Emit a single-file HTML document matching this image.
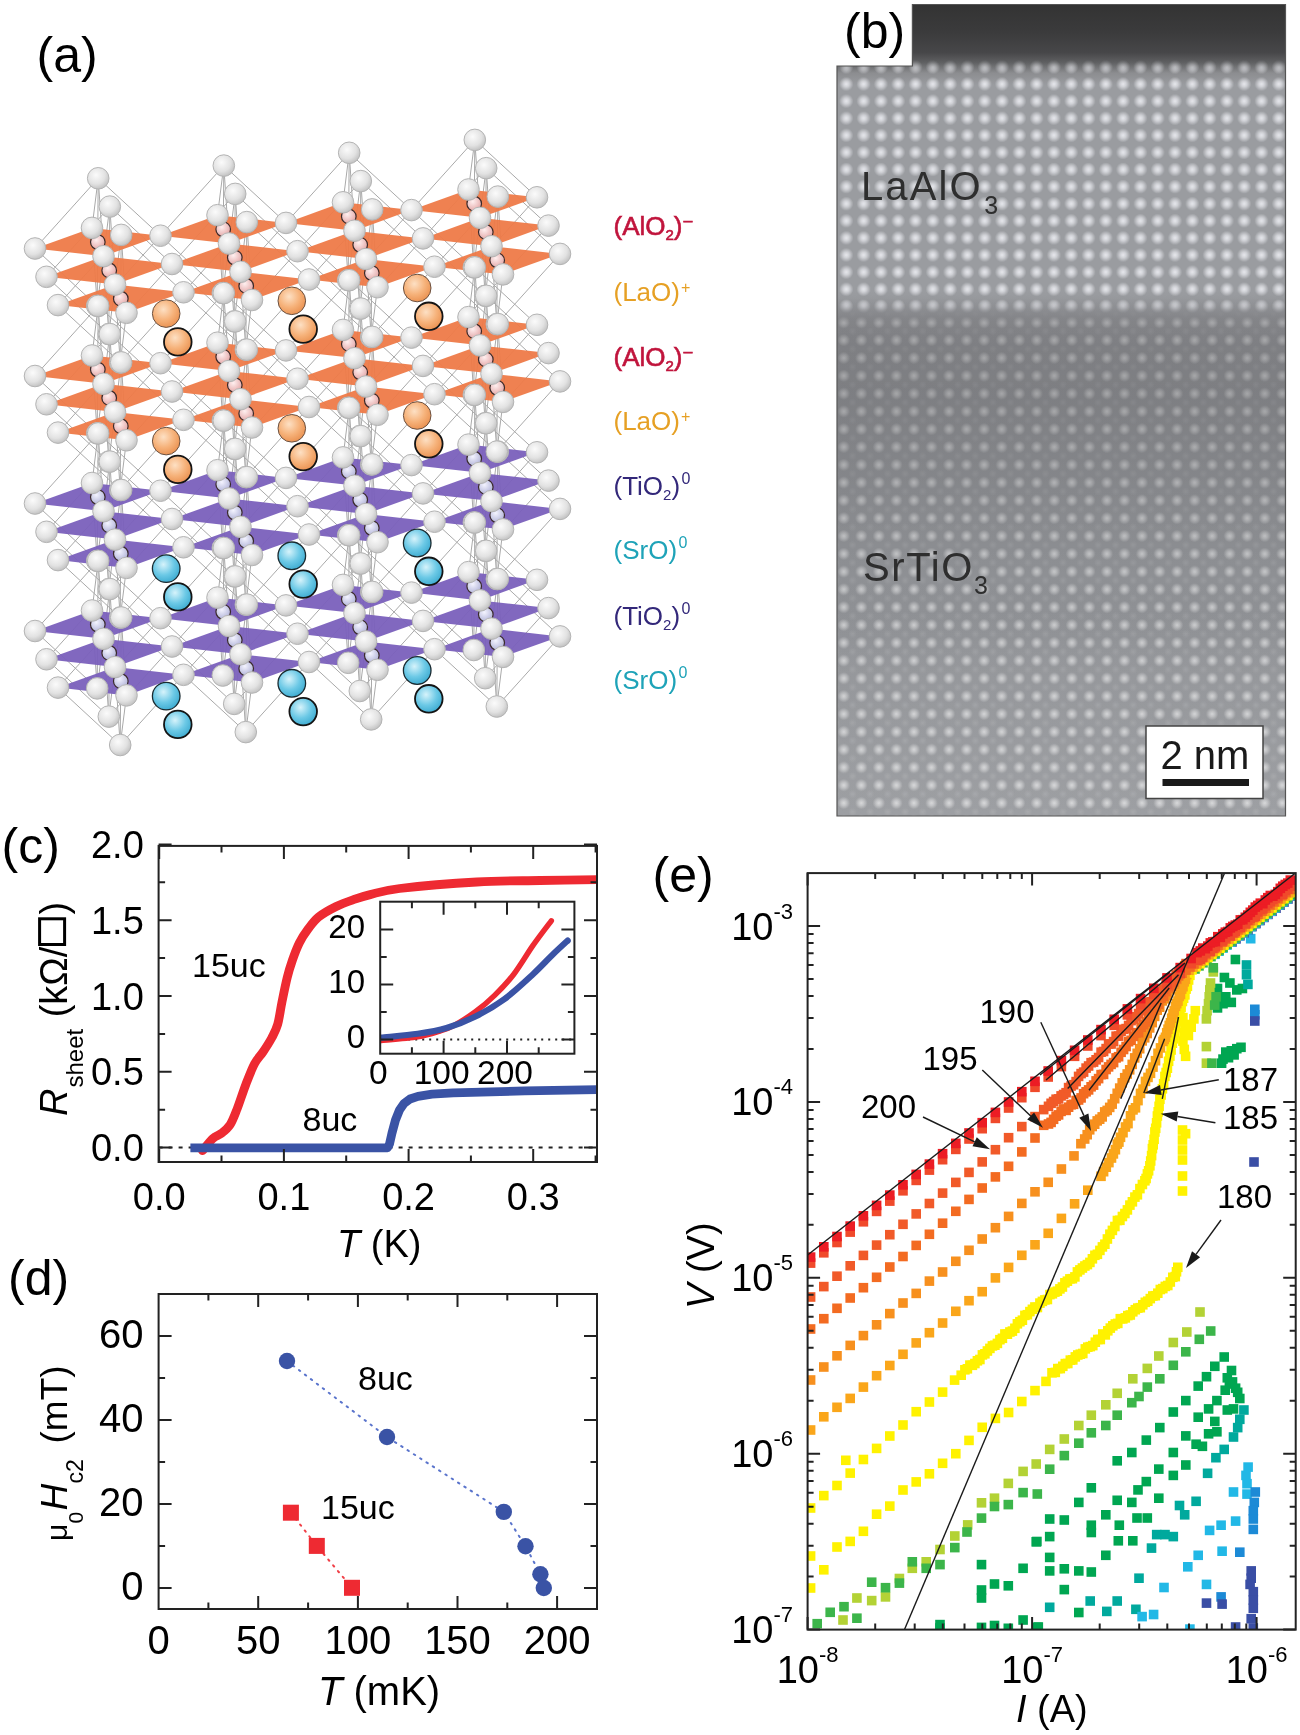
<!DOCTYPE html>
<html><head><meta charset="utf-8"><style>
html,body{margin:0;padding:0;background:#fff;}
svg{display:block;will-change:transform;}
</style></head><body>
<svg width="1300" height="1735" viewBox="0 0 1300 1735" font-family="'Liberation Sans', sans-serif">
<rect width="1300" height="1735" fill="#fff"/>
<defs>
<radialGradient id="gO" cx="0.4" cy="0.35" r="0.7"><stop offset="0" stop-color="#fbfbfb"/><stop offset="0.6" stop-color="#e2e2e2"/><stop offset="1" stop-color="#bdbdbd"/></radialGradient>
<radialGradient id="gLa" cx="0.4" cy="0.35" r="0.7"><stop offset="0" stop-color="#fde0c4"/><stop offset="0.55" stop-color="#f6b27a"/><stop offset="1" stop-color="#e98f4e"/></radialGradient>
<radialGradient id="gSr" cx="0.4" cy="0.35" r="0.7"><stop offset="0" stop-color="#d6f3fb"/><stop offset="0.55" stop-color="#6cc9e6"/><stop offset="1" stop-color="#3aa9cf"/></radialGradient>
<radialGradient id="gAl" cx="0.4" cy="0.35" r="0.7"><stop offset="0" stop-color="#fff0f0"/><stop offset="1" stop-color="#e2a3a3"/></radialGradient>
<radialGradient id="gTi" cx="0.4" cy="0.35" r="0.7"><stop offset="0" stop-color="#f4f4ff"/><stop offset="1" stop-color="#aeb0d6"/></radialGradient>
</defs>
<g stroke="#9a9a9a" stroke-width="1" opacity="0.85"><line x1="98.2" y1="178.3" x2="35" y2="248.5"/><line x1="97.2" y1="305.9" x2="35" y2="248.5"/><line x1="98.2" y1="178.3" x2="92" y2="227.9"/><line x1="97.2" y1="305.9" x2="92" y2="227.9"/><line x1="98.2" y1="178.3" x2="160.5" y2="235.7"/><line x1="97.2" y1="305.9" x2="160.5" y2="235.7"/><line x1="98.2" y1="178.3" x2="103.5" y2="256.2"/><line x1="97.2" y1="305.9" x2="103.5" y2="256.2"/><line x1="98.2" y1="178.3" x2="97.2" y2="305.9"/><line x1="223.8" y1="165.6" x2="160.5" y2="235.7"/><line x1="222.8" y1="293.1" x2="160.5" y2="235.7"/><line x1="223.8" y1="165.6" x2="217.5" y2="215.2"/><line x1="222.8" y1="293.1" x2="217.5" y2="215.2"/><line x1="223.8" y1="165.6" x2="286" y2="222.9"/><line x1="222.8" y1="293.1" x2="286" y2="222.9"/><line x1="223.8" y1="165.6" x2="229" y2="243.5"/><line x1="222.8" y1="293.1" x2="229" y2="243.5"/><line x1="223.8" y1="165.6" x2="222.8" y2="293.1"/><line x1="349.2" y1="152.8" x2="286" y2="222.9"/><line x1="348.2" y1="280.2" x2="286" y2="222.9"/><line x1="349.2" y1="152.8" x2="343" y2="202.3"/><line x1="348.2" y1="280.2" x2="343" y2="202.3"/><line x1="349.2" y1="152.8" x2="411.5" y2="210.1"/><line x1="348.2" y1="280.2" x2="411.5" y2="210.1"/><line x1="349.2" y1="152.8" x2="354.5" y2="230.7"/><line x1="348.2" y1="280.2" x2="354.5" y2="230.7"/><line x1="349.2" y1="152.8" x2="348.2" y2="280.2"/><line x1="474.8" y1="139.9" x2="411.5" y2="210.1"/><line x1="473.8" y1="267.4" x2="411.5" y2="210.1"/><line x1="474.8" y1="139.9" x2="468.5" y2="189.5"/><line x1="473.8" y1="267.4" x2="468.5" y2="189.5"/><line x1="474.8" y1="139.9" x2="537" y2="197.3"/><line x1="473.8" y1="267.4" x2="537" y2="197.3"/><line x1="474.8" y1="139.9" x2="480" y2="217.8"/><line x1="473.8" y1="267.4" x2="480" y2="217.8"/><line x1="474.8" y1="139.9" x2="473.8" y2="267.4"/><line x1="109.8" y1="206.6" x2="46.5" y2="276.8"/><line x1="108.8" y1="334.1" x2="46.5" y2="276.8"/><line x1="109.8" y1="206.6" x2="103.5" y2="256.2"/><line x1="108.8" y1="334.1" x2="103.5" y2="256.2"/><line x1="109.8" y1="206.6" x2="172" y2="264"/><line x1="108.8" y1="334.1" x2="172" y2="264"/><line x1="109.8" y1="206.6" x2="115" y2="284.5"/><line x1="108.8" y1="334.1" x2="115" y2="284.5"/><line x1="109.8" y1="206.6" x2="108.8" y2="334.1"/><line x1="235.2" y1="193.9" x2="172" y2="264"/><line x1="234.2" y1="321.4" x2="172" y2="264"/><line x1="235.2" y1="193.9" x2="229" y2="243.5"/><line x1="234.2" y1="321.4" x2="229" y2="243.5"/><line x1="235.2" y1="193.9" x2="297.5" y2="251.2"/><line x1="234.2" y1="321.4" x2="297.5" y2="251.2"/><line x1="235.2" y1="193.9" x2="240.5" y2="271.8"/><line x1="234.2" y1="321.4" x2="240.5" y2="271.8"/><line x1="235.2" y1="193.9" x2="234.2" y2="321.4"/><line x1="360.8" y1="181.1" x2="297.5" y2="251.2"/><line x1="359.8" y1="308.6" x2="297.5" y2="251.2"/><line x1="360.8" y1="181.1" x2="354.5" y2="230.7"/><line x1="359.8" y1="308.6" x2="354.5" y2="230.7"/><line x1="360.8" y1="181.1" x2="423" y2="238.4"/><line x1="359.8" y1="308.6" x2="423" y2="238.4"/><line x1="360.8" y1="181.1" x2="366" y2="258.9"/><line x1="359.8" y1="308.6" x2="366" y2="258.9"/><line x1="360.8" y1="181.1" x2="359.8" y2="308.6"/><line x1="486.2" y1="168.2" x2="423" y2="238.4"/><line x1="485.2" y1="295.8" x2="423" y2="238.4"/><line x1="486.2" y1="168.2" x2="480" y2="217.8"/><line x1="485.2" y1="295.8" x2="480" y2="217.8"/><line x1="486.2" y1="168.2" x2="548.5" y2="225.6"/><line x1="485.2" y1="295.8" x2="548.5" y2="225.6"/><line x1="486.2" y1="168.2" x2="491.5" y2="246.2"/><line x1="485.2" y1="295.8" x2="491.5" y2="246.2"/><line x1="486.2" y1="168.2" x2="485.2" y2="295.8"/><line x1="121.2" y1="234.9" x2="58" y2="305.1"/><line x1="120.2" y1="362.4" x2="58" y2="305.1"/><line x1="121.2" y1="234.9" x2="115" y2="284.6"/><line x1="120.2" y1="362.4" x2="115" y2="284.6"/><line x1="121.2" y1="234.9" x2="183.5" y2="292.3"/><line x1="120.2" y1="362.4" x2="183.5" y2="292.3"/><line x1="121.2" y1="234.9" x2="126.5" y2="312.8"/><line x1="120.2" y1="362.4" x2="126.5" y2="312.8"/><line x1="121.2" y1="234.9" x2="120.2" y2="362.4"/><line x1="246.8" y1="222.1" x2="183.5" y2="292.3"/><line x1="245.8" y1="349.6" x2="183.5" y2="292.3"/><line x1="246.8" y1="222.1" x2="240.5" y2="271.8"/><line x1="245.8" y1="349.6" x2="240.5" y2="271.8"/><line x1="246.8" y1="222.1" x2="309" y2="279.5"/><line x1="245.8" y1="349.6" x2="309" y2="279.5"/><line x1="246.8" y1="222.1" x2="252" y2="300"/><line x1="245.8" y1="349.6" x2="252" y2="300"/><line x1="246.8" y1="222.1" x2="245.8" y2="349.6"/><line x1="372.2" y1="209.4" x2="309" y2="279.5"/><line x1="371.2" y1="336.9" x2="309" y2="279.5"/><line x1="372.2" y1="209.4" x2="366" y2="259"/><line x1="371.2" y1="336.9" x2="366" y2="259"/><line x1="372.2" y1="209.4" x2="434.5" y2="266.7"/><line x1="371.2" y1="336.9" x2="434.5" y2="266.7"/><line x1="372.2" y1="209.4" x2="377.5" y2="287.2"/><line x1="371.2" y1="336.9" x2="377.5" y2="287.2"/><line x1="372.2" y1="209.4" x2="371.2" y2="336.9"/><line x1="497.8" y1="196.6" x2="434.5" y2="266.7"/><line x1="496.8" y1="324.1" x2="434.5" y2="266.7"/><line x1="497.8" y1="196.6" x2="491.5" y2="246.2"/><line x1="496.8" y1="324.1" x2="491.5" y2="246.2"/><line x1="497.8" y1="196.6" x2="560" y2="253.9"/><line x1="496.8" y1="324.1" x2="560" y2="253.9"/><line x1="497.8" y1="196.6" x2="503" y2="274.4"/><line x1="496.8" y1="324.1" x2="503" y2="274.4"/><line x1="497.8" y1="196.6" x2="496.8" y2="324.1"/><line x1="98.2" y1="305.9" x2="35" y2="376"/><line x1="97.2" y1="433.4" x2="35" y2="376"/><line x1="98.2" y1="305.9" x2="92" y2="355.5"/><line x1="97.2" y1="433.4" x2="92" y2="355.5"/><line x1="98.2" y1="305.9" x2="160.5" y2="363.2"/><line x1="97.2" y1="433.4" x2="160.5" y2="363.2"/><line x1="98.2" y1="305.9" x2="103.5" y2="383.8"/><line x1="97.2" y1="433.4" x2="103.5" y2="383.8"/><line x1="98.2" y1="305.9" x2="97.2" y2="433.4"/><line x1="223.8" y1="293.1" x2="160.5" y2="363.2"/><line x1="222.8" y1="420.6" x2="160.5" y2="363.2"/><line x1="223.8" y1="293.1" x2="217.5" y2="342.7"/><line x1="222.8" y1="420.6" x2="217.5" y2="342.7"/><line x1="223.8" y1="293.1" x2="286" y2="350.4"/><line x1="222.8" y1="420.6" x2="286" y2="350.4"/><line x1="223.8" y1="293.1" x2="229" y2="370.9"/><line x1="222.8" y1="420.6" x2="229" y2="370.9"/><line x1="223.8" y1="293.1" x2="222.8" y2="420.6"/><line x1="349.2" y1="280.2" x2="286" y2="350.4"/><line x1="348.2" y1="407.8" x2="286" y2="350.4"/><line x1="349.2" y1="280.2" x2="343" y2="329.9"/><line x1="348.2" y1="407.8" x2="343" y2="329.9"/><line x1="349.2" y1="280.2" x2="411.5" y2="337.6"/><line x1="348.2" y1="407.8" x2="411.5" y2="337.6"/><line x1="349.2" y1="280.2" x2="354.5" y2="358.1"/><line x1="348.2" y1="407.8" x2="354.5" y2="358.1"/><line x1="349.2" y1="280.2" x2="348.2" y2="407.8"/><line x1="474.8" y1="267.4" x2="411.5" y2="337.6"/><line x1="473.8" y1="394.9" x2="411.5" y2="337.6"/><line x1="474.8" y1="267.4" x2="468.5" y2="317.1"/><line x1="473.8" y1="394.9" x2="468.5" y2="317.1"/><line x1="474.8" y1="267.4" x2="537" y2="324.8"/><line x1="473.8" y1="394.9" x2="537" y2="324.8"/><line x1="474.8" y1="267.4" x2="480" y2="345.3"/><line x1="473.8" y1="394.9" x2="480" y2="345.3"/><line x1="474.8" y1="267.4" x2="473.8" y2="394.9"/><line x1="109.8" y1="334.1" x2="46.5" y2="404.3"/><line x1="108.8" y1="461.6" x2="46.5" y2="404.3"/><line x1="109.8" y1="334.1" x2="103.5" y2="383.8"/><line x1="108.8" y1="461.6" x2="103.5" y2="383.8"/><line x1="109.8" y1="334.1" x2="172" y2="391.5"/><line x1="108.8" y1="461.6" x2="172" y2="391.5"/><line x1="109.8" y1="334.1" x2="115" y2="412"/><line x1="108.8" y1="461.6" x2="115" y2="412"/><line x1="109.8" y1="334.1" x2="108.8" y2="461.6"/><line x1="235.2" y1="321.4" x2="172" y2="391.5"/><line x1="234.2" y1="448.9" x2="172" y2="391.5"/><line x1="235.2" y1="321.4" x2="229" y2="371"/><line x1="234.2" y1="448.9" x2="229" y2="371"/><line x1="235.2" y1="321.4" x2="297.5" y2="378.7"/><line x1="234.2" y1="448.9" x2="297.5" y2="378.7"/><line x1="235.2" y1="321.4" x2="240.5" y2="399.2"/><line x1="234.2" y1="448.9" x2="240.5" y2="399.2"/><line x1="235.2" y1="321.4" x2="234.2" y2="448.9"/><line x1="360.8" y1="308.6" x2="297.5" y2="378.7"/><line x1="359.8" y1="436.1" x2="297.5" y2="378.7"/><line x1="360.8" y1="308.6" x2="354.5" y2="358.2"/><line x1="359.8" y1="436.1" x2="354.5" y2="358.2"/><line x1="360.8" y1="308.6" x2="423" y2="365.9"/><line x1="359.8" y1="436.1" x2="423" y2="365.9"/><line x1="360.8" y1="308.6" x2="366" y2="386.4"/><line x1="359.8" y1="436.1" x2="366" y2="386.4"/><line x1="360.8" y1="308.6" x2="359.8" y2="436.1"/><line x1="486.2" y1="295.8" x2="423" y2="365.9"/><line x1="485.2" y1="423.2" x2="423" y2="365.9"/><line x1="486.2" y1="295.8" x2="480" y2="345.4"/><line x1="485.2" y1="423.2" x2="480" y2="345.4"/><line x1="486.2" y1="295.8" x2="548.5" y2="353.1"/><line x1="485.2" y1="423.2" x2="548.5" y2="353.1"/><line x1="486.2" y1="295.8" x2="491.5" y2="373.6"/><line x1="485.2" y1="423.2" x2="491.5" y2="373.6"/><line x1="486.2" y1="295.8" x2="485.2" y2="423.2"/><line x1="121.2" y1="362.4" x2="58" y2="432.6"/><line x1="120.2" y1="489.9" x2="58" y2="432.6"/><line x1="121.2" y1="362.4" x2="115" y2="412.1"/><line x1="120.2" y1="489.9" x2="115" y2="412.1"/><line x1="121.2" y1="362.4" x2="183.5" y2="419.8"/><line x1="120.2" y1="489.9" x2="183.5" y2="419.8"/><line x1="121.2" y1="362.4" x2="126.5" y2="440.3"/><line x1="120.2" y1="489.9" x2="126.5" y2="440.3"/><line x1="121.2" y1="362.4" x2="120.2" y2="489.9"/><line x1="246.8" y1="349.6" x2="183.5" y2="419.8"/><line x1="245.8" y1="477.1" x2="183.5" y2="419.8"/><line x1="246.8" y1="349.6" x2="240.5" y2="399.2"/><line x1="245.8" y1="477.1" x2="240.5" y2="399.2"/><line x1="246.8" y1="349.6" x2="309" y2="407"/><line x1="245.8" y1="477.1" x2="309" y2="407"/><line x1="246.8" y1="349.6" x2="252" y2="427.5"/><line x1="245.8" y1="477.1" x2="252" y2="427.5"/><line x1="246.8" y1="349.6" x2="245.8" y2="477.1"/><line x1="372.2" y1="336.9" x2="309" y2="407"/><line x1="371.2" y1="464.4" x2="309" y2="407"/><line x1="372.2" y1="336.9" x2="366" y2="386.5"/><line x1="371.2" y1="464.4" x2="366" y2="386.5"/><line x1="372.2" y1="336.9" x2="434.5" y2="394.2"/><line x1="371.2" y1="464.4" x2="434.5" y2="394.2"/><line x1="372.2" y1="336.9" x2="377.5" y2="414.8"/><line x1="371.2" y1="464.4" x2="377.5" y2="414.8"/><line x1="372.2" y1="336.9" x2="371.2" y2="464.4"/><line x1="497.8" y1="324.1" x2="434.5" y2="394.2"/><line x1="496.8" y1="451.6" x2="434.5" y2="394.2"/><line x1="497.8" y1="324.1" x2="491.5" y2="373.7"/><line x1="496.8" y1="451.6" x2="491.5" y2="373.7"/><line x1="497.8" y1="324.1" x2="560" y2="381.4"/><line x1="496.8" y1="451.6" x2="560" y2="381.4"/><line x1="497.8" y1="324.1" x2="503" y2="401.9"/><line x1="496.8" y1="451.6" x2="503" y2="401.9"/><line x1="497.8" y1="324.1" x2="496.8" y2="451.6"/><line x1="98.2" y1="433.4" x2="35" y2="503.5"/><line x1="97.2" y1="560.9" x2="35" y2="503.5"/><line x1="98.2" y1="433.4" x2="92" y2="483"/><line x1="97.2" y1="560.9" x2="92" y2="483"/><line x1="98.2" y1="433.4" x2="160.5" y2="490.7"/><line x1="97.2" y1="560.9" x2="160.5" y2="490.7"/><line x1="98.2" y1="433.4" x2="103.5" y2="511.2"/><line x1="97.2" y1="560.9" x2="103.5" y2="511.2"/><line x1="98.2" y1="433.4" x2="97.2" y2="560.9"/><line x1="223.8" y1="420.6" x2="160.5" y2="490.7"/><line x1="222.8" y1="548" x2="160.5" y2="490.7"/><line x1="223.8" y1="420.6" x2="217.5" y2="470.2"/><line x1="222.8" y1="548" x2="217.5" y2="470.2"/><line x1="223.8" y1="420.6" x2="286" y2="477.9"/><line x1="222.8" y1="548" x2="286" y2="477.9"/><line x1="223.8" y1="420.6" x2="229" y2="498.4"/><line x1="222.8" y1="548" x2="229" y2="498.4"/><line x1="223.8" y1="420.6" x2="222.8" y2="548"/><line x1="349.2" y1="407.8" x2="286" y2="477.9"/><line x1="348.2" y1="535.2" x2="286" y2="477.9"/><line x1="349.2" y1="407.8" x2="343" y2="457.4"/><line x1="348.2" y1="535.2" x2="343" y2="457.4"/><line x1="349.2" y1="407.8" x2="411.5" y2="465.1"/><line x1="348.2" y1="535.2" x2="411.5" y2="465.1"/><line x1="349.2" y1="407.8" x2="354.5" y2="485.6"/><line x1="348.2" y1="535.2" x2="354.5" y2="485.6"/><line x1="349.2" y1="407.8" x2="348.2" y2="535.2"/><line x1="474.8" y1="394.9" x2="411.5" y2="465.1"/><line x1="473.8" y1="522.5" x2="411.5" y2="465.1"/><line x1="474.8" y1="394.9" x2="468.5" y2="444.6"/><line x1="473.8" y1="522.5" x2="468.5" y2="444.6"/><line x1="474.8" y1="394.9" x2="537" y2="452.3"/><line x1="473.8" y1="522.5" x2="537" y2="452.3"/><line x1="474.8" y1="394.9" x2="480" y2="472.8"/><line x1="473.8" y1="522.5" x2="480" y2="472.8"/><line x1="474.8" y1="394.9" x2="473.8" y2="522.5"/><line x1="109.8" y1="461.6" x2="46.5" y2="531.8"/><line x1="108.8" y1="589.1" x2="46.5" y2="531.8"/><line x1="109.8" y1="461.6" x2="103.5" y2="511.2"/><line x1="108.8" y1="589.1" x2="103.5" y2="511.2"/><line x1="109.8" y1="461.6" x2="172" y2="519"/><line x1="108.8" y1="589.1" x2="172" y2="519"/><line x1="109.8" y1="461.6" x2="115" y2="539.5"/><line x1="108.8" y1="589.1" x2="115" y2="539.5"/><line x1="109.8" y1="461.6" x2="108.8" y2="589.1"/><line x1="235.2" y1="448.9" x2="172" y2="519"/><line x1="234.2" y1="576.4" x2="172" y2="519"/><line x1="235.2" y1="448.9" x2="229" y2="498.5"/><line x1="234.2" y1="576.4" x2="229" y2="498.5"/><line x1="235.2" y1="448.9" x2="297.5" y2="506.2"/><line x1="234.2" y1="576.4" x2="297.5" y2="506.2"/><line x1="235.2" y1="448.9" x2="240.5" y2="526.8"/><line x1="234.2" y1="576.4" x2="240.5" y2="526.8"/><line x1="235.2" y1="448.9" x2="234.2" y2="576.4"/><line x1="360.8" y1="436.1" x2="297.5" y2="506.2"/><line x1="359.8" y1="563.5" x2="297.5" y2="506.2"/><line x1="360.8" y1="436.1" x2="354.5" y2="485.7"/><line x1="359.8" y1="563.5" x2="354.5" y2="485.7"/><line x1="360.8" y1="436.1" x2="423" y2="493.4"/><line x1="359.8" y1="563.5" x2="423" y2="493.4"/><line x1="360.8" y1="436.1" x2="366" y2="514"/><line x1="359.8" y1="563.5" x2="366" y2="514"/><line x1="360.8" y1="436.1" x2="359.8" y2="563.5"/><line x1="486.2" y1="423.2" x2="423" y2="493.4"/><line x1="485.2" y1="550.8" x2="423" y2="493.4"/><line x1="486.2" y1="423.2" x2="480" y2="472.9"/><line x1="485.2" y1="550.8" x2="480" y2="472.9"/><line x1="486.2" y1="423.2" x2="548.5" y2="480.6"/><line x1="485.2" y1="550.8" x2="548.5" y2="480.6"/><line x1="486.2" y1="423.2" x2="491.5" y2="501.1"/><line x1="485.2" y1="550.8" x2="491.5" y2="501.1"/><line x1="486.2" y1="423.2" x2="485.2" y2="550.8"/><line x1="121.2" y1="490" x2="58" y2="560.1"/><line x1="120.2" y1="617.5" x2="58" y2="560.1"/><line x1="121.2" y1="490" x2="115" y2="539.6"/><line x1="120.2" y1="617.5" x2="115" y2="539.6"/><line x1="121.2" y1="490" x2="183.5" y2="547.3"/><line x1="120.2" y1="617.5" x2="183.5" y2="547.3"/><line x1="121.2" y1="490" x2="126.5" y2="567.9"/><line x1="120.2" y1="617.5" x2="126.5" y2="567.9"/><line x1="121.2" y1="490" x2="120.2" y2="617.5"/><line x1="246.8" y1="477.1" x2="183.5" y2="547.3"/><line x1="245.8" y1="604.6" x2="183.5" y2="547.3"/><line x1="246.8" y1="477.1" x2="240.5" y2="526.8"/><line x1="245.8" y1="604.6" x2="240.5" y2="526.8"/><line x1="246.8" y1="477.1" x2="309" y2="534.5"/><line x1="245.8" y1="604.6" x2="309" y2="534.5"/><line x1="246.8" y1="477.1" x2="252" y2="555"/><line x1="245.8" y1="604.6" x2="252" y2="555"/><line x1="246.8" y1="477.1" x2="245.8" y2="604.6"/><line x1="372.2" y1="464.4" x2="309" y2="534.5"/><line x1="371.2" y1="591.9" x2="309" y2="534.5"/><line x1="372.2" y1="464.4" x2="366" y2="514"/><line x1="371.2" y1="591.9" x2="366" y2="514"/><line x1="372.2" y1="464.4" x2="434.5" y2="521.7"/><line x1="371.2" y1="591.9" x2="434.5" y2="521.7"/><line x1="372.2" y1="464.4" x2="377.5" y2="542.2"/><line x1="371.2" y1="591.9" x2="377.5" y2="542.2"/><line x1="372.2" y1="464.4" x2="371.2" y2="591.9"/><line x1="497.8" y1="451.5" x2="434.5" y2="521.7"/><line x1="496.8" y1="579" x2="434.5" y2="521.7"/><line x1="497.8" y1="451.5" x2="491.5" y2="501.1"/><line x1="496.8" y1="579" x2="491.5" y2="501.1"/><line x1="497.8" y1="451.5" x2="560" y2="508.9"/><line x1="496.8" y1="579" x2="560" y2="508.9"/><line x1="497.8" y1="451.5" x2="503" y2="529.4"/><line x1="496.8" y1="579" x2="503" y2="529.4"/><line x1="497.8" y1="451.5" x2="496.8" y2="579"/><line x1="98.2" y1="560.9" x2="35" y2="631"/><line x1="97.2" y1="688.4" x2="35" y2="631"/><line x1="98.2" y1="560.9" x2="92" y2="610.5"/><line x1="97.2" y1="688.4" x2="92" y2="610.5"/><line x1="98.2" y1="560.9" x2="160.5" y2="618.2"/><line x1="97.2" y1="688.4" x2="160.5" y2="618.2"/><line x1="98.2" y1="560.9" x2="103.5" y2="638.8"/><line x1="97.2" y1="688.4" x2="103.5" y2="638.8"/><line x1="98.2" y1="560.9" x2="97.2" y2="688.4"/><line x1="223.8" y1="548" x2="160.5" y2="618.2"/><line x1="222.8" y1="675.5" x2="160.5" y2="618.2"/><line x1="223.8" y1="548" x2="217.5" y2="597.6"/><line x1="222.8" y1="675.5" x2="217.5" y2="597.6"/><line x1="223.8" y1="548" x2="286" y2="605.4"/><line x1="222.8" y1="675.5" x2="286" y2="605.4"/><line x1="223.8" y1="548" x2="229" y2="625.9"/><line x1="222.8" y1="675.5" x2="229" y2="625.9"/><line x1="223.8" y1="548" x2="222.8" y2="675.5"/><line x1="349.2" y1="535.2" x2="286" y2="605.4"/><line x1="348.2" y1="662.8" x2="286" y2="605.4"/><line x1="349.2" y1="535.2" x2="343" y2="584.9"/><line x1="348.2" y1="662.8" x2="343" y2="584.9"/><line x1="349.2" y1="535.2" x2="411.5" y2="592.6"/><line x1="348.2" y1="662.8" x2="411.5" y2="592.6"/><line x1="349.2" y1="535.2" x2="354.5" y2="613.1"/><line x1="348.2" y1="662.8" x2="354.5" y2="613.1"/><line x1="349.2" y1="535.2" x2="348.2" y2="662.8"/><line x1="474.8" y1="522.5" x2="411.5" y2="592.6"/><line x1="473.8" y1="650" x2="411.5" y2="592.6"/><line x1="474.8" y1="522.5" x2="468.5" y2="572.1"/><line x1="473.8" y1="650" x2="468.5" y2="572.1"/><line x1="474.8" y1="522.5" x2="537" y2="579.8"/><line x1="473.8" y1="650" x2="537" y2="579.8"/><line x1="474.8" y1="522.5" x2="480" y2="600.4"/><line x1="473.8" y1="650" x2="480" y2="600.4"/><line x1="474.8" y1="522.5" x2="473.8" y2="650"/><line x1="109.8" y1="589.1" x2="46.5" y2="659.3"/><line x1="108.8" y1="716.6" x2="46.5" y2="659.3"/><line x1="109.8" y1="589.1" x2="103.5" y2="638.8"/><line x1="108.8" y1="716.6" x2="103.5" y2="638.8"/><line x1="109.8" y1="589.1" x2="172" y2="646.5"/><line x1="108.8" y1="716.6" x2="172" y2="646.5"/><line x1="109.8" y1="589.1" x2="115" y2="667"/><line x1="108.8" y1="716.6" x2="115" y2="667"/><line x1="109.8" y1="589.1" x2="108.8" y2="716.6"/><line x1="235.2" y1="576.4" x2="172" y2="646.5"/><line x1="234.2" y1="703.9" x2="172" y2="646.5"/><line x1="235.2" y1="576.4" x2="229" y2="626"/><line x1="234.2" y1="703.9" x2="229" y2="626"/><line x1="235.2" y1="576.4" x2="297.5" y2="633.7"/><line x1="234.2" y1="703.9" x2="297.5" y2="633.7"/><line x1="235.2" y1="576.4" x2="240.5" y2="654.2"/><line x1="234.2" y1="703.9" x2="240.5" y2="654.2"/><line x1="235.2" y1="576.4" x2="234.2" y2="703.9"/><line x1="360.8" y1="563.5" x2="297.5" y2="633.7"/><line x1="359.8" y1="691" x2="297.5" y2="633.7"/><line x1="360.8" y1="563.5" x2="354.5" y2="613.1"/><line x1="359.8" y1="691" x2="354.5" y2="613.1"/><line x1="360.8" y1="563.5" x2="423" y2="620.9"/><line x1="359.8" y1="691" x2="423" y2="620.9"/><line x1="360.8" y1="563.5" x2="366" y2="641.4"/><line x1="359.8" y1="691" x2="366" y2="641.4"/><line x1="360.8" y1="563.5" x2="359.8" y2="691"/><line x1="486.2" y1="550.8" x2="423" y2="620.9"/><line x1="485.2" y1="678.2" x2="423" y2="620.9"/><line x1="486.2" y1="550.8" x2="480" y2="600.4"/><line x1="485.2" y1="678.2" x2="480" y2="600.4"/><line x1="486.2" y1="550.8" x2="548.5" y2="608.1"/><line x1="485.2" y1="678.2" x2="548.5" y2="608.1"/><line x1="486.2" y1="550.8" x2="491.5" y2="628.6"/><line x1="485.2" y1="678.2" x2="491.5" y2="628.6"/><line x1="486.2" y1="550.8" x2="485.2" y2="678.2"/><line x1="121.2" y1="617.5" x2="58" y2="687.6"/><line x1="120.2" y1="745" x2="58" y2="687.6"/><line x1="121.2" y1="617.5" x2="115" y2="667.1"/><line x1="120.2" y1="745" x2="115" y2="667.1"/><line x1="121.2" y1="617.5" x2="183.5" y2="674.8"/><line x1="120.2" y1="745" x2="183.5" y2="674.8"/><line x1="121.2" y1="617.5" x2="126.5" y2="695.4"/><line x1="120.2" y1="745" x2="126.5" y2="695.4"/><line x1="121.2" y1="617.5" x2="120.2" y2="745"/><line x1="246.8" y1="604.6" x2="183.5" y2="674.8"/><line x1="245.8" y1="732.1" x2="183.5" y2="674.8"/><line x1="246.8" y1="604.6" x2="240.5" y2="654.2"/><line x1="245.8" y1="732.1" x2="240.5" y2="654.2"/><line x1="246.8" y1="604.6" x2="309" y2="662"/><line x1="245.8" y1="732.1" x2="309" y2="662"/><line x1="246.8" y1="604.6" x2="252" y2="682.5"/><line x1="245.8" y1="732.1" x2="252" y2="682.5"/><line x1="246.8" y1="604.6" x2="245.8" y2="732.1"/><line x1="372.2" y1="591.9" x2="309" y2="662"/><line x1="371.2" y1="719.4" x2="309" y2="662"/><line x1="372.2" y1="591.9" x2="366" y2="641.5"/><line x1="371.2" y1="719.4" x2="366" y2="641.5"/><line x1="372.2" y1="591.9" x2="434.5" y2="649.2"/><line x1="371.2" y1="719.4" x2="434.5" y2="649.2"/><line x1="372.2" y1="591.9" x2="377.5" y2="669.8"/><line x1="371.2" y1="719.4" x2="377.5" y2="669.8"/><line x1="372.2" y1="591.9" x2="371.2" y2="719.4"/><line x1="497.8" y1="579" x2="434.5" y2="649.2"/><line x1="496.8" y1="706.5" x2="434.5" y2="649.2"/><line x1="497.8" y1="579" x2="491.5" y2="628.6"/><line x1="496.8" y1="706.5" x2="491.5" y2="628.6"/><line x1="497.8" y1="579" x2="560" y2="636.4"/><line x1="496.8" y1="706.5" x2="560" y2="636.4"/><line x1="497.8" y1="579" x2="503" y2="656.9"/><line x1="496.8" y1="706.5" x2="503" y2="656.9"/><line x1="497.8" y1="579" x2="496.8" y2="706.5"/></g>
<g><polygon points="35,248.5 92,227.9 160.5,235.7 103.5,256.2" fill="#ee7a48" fill-opacity="0.95"/><polygon points="160.5,235.7 217.5,215.2 286,222.9 229,243.5" fill="#ee7a48" fill-opacity="0.95"/><polygon points="286,222.9 343,202.3 411.5,210.1 354.5,230.7" fill="#ee7a48" fill-opacity="0.95"/><polygon points="411.5,210.1 468.5,189.5 537,197.3 480,217.8" fill="#ee7a48" fill-opacity="0.95"/><polygon points="46.5,276.8 103.5,256.2 172,264 115,284.5" fill="#ee7a48" fill-opacity="0.95"/><polygon points="172,264 229,243.5 297.5,251.2 240.5,271.8" fill="#ee7a48" fill-opacity="0.95"/><polygon points="297.5,251.2 354.5,230.7 423,238.4 366,258.9" fill="#ee7a48" fill-opacity="0.95"/><polygon points="423,238.4 480,217.8 548.5,225.6 491.5,246.2" fill="#ee7a48" fill-opacity="0.95"/><polygon points="58,305.1 115,284.6 183.5,292.3 126.5,312.8" fill="#ee7a48" fill-opacity="0.95"/><polygon points="183.5,292.3 240.5,271.8 309,279.5 252,300" fill="#ee7a48" fill-opacity="0.95"/><polygon points="309,279.5 366,259 434.5,266.7 377.5,287.2" fill="#ee7a48" fill-opacity="0.95"/><polygon points="434.5,266.7 491.5,246.2 560,253.9 503,274.4" fill="#ee7a48" fill-opacity="0.95"/><polygon points="35,376 92,355.5 160.5,363.2 103.5,383.8" fill="#ee7a48" fill-opacity="0.95"/><polygon points="160.5,363.2 217.5,342.7 286,350.4 229,370.9" fill="#ee7a48" fill-opacity="0.95"/><polygon points="286,350.4 343,329.9 411.5,337.6 354.5,358.1" fill="#ee7a48" fill-opacity="0.95"/><polygon points="411.5,337.6 468.5,317.1 537,324.8 480,345.3" fill="#ee7a48" fill-opacity="0.95"/><polygon points="46.5,404.3 103.5,383.8 172,391.5 115,412" fill="#ee7a48" fill-opacity="0.95"/><polygon points="172,391.5 229,371 297.5,378.7 240.5,399.2" fill="#ee7a48" fill-opacity="0.95"/><polygon points="297.5,378.7 354.5,358.2 423,365.9 366,386.4" fill="#ee7a48" fill-opacity="0.95"/><polygon points="423,365.9 480,345.4 548.5,353.1 491.5,373.6" fill="#ee7a48" fill-opacity="0.95"/><polygon points="58,432.6 115,412.1 183.5,419.8 126.5,440.3" fill="#ee7a48" fill-opacity="0.95"/><polygon points="183.5,419.8 240.5,399.2 309,407 252,427.5" fill="#ee7a48" fill-opacity="0.95"/><polygon points="309,407 366,386.5 434.5,394.2 377.5,414.8" fill="#ee7a48" fill-opacity="0.95"/><polygon points="434.5,394.2 491.5,373.7 560,381.4 503,401.9" fill="#ee7a48" fill-opacity="0.95"/><polygon points="35,503.5 92,483 160.5,490.7 103.5,511.2" fill="#7a60bc" fill-opacity="0.95"/><polygon points="160.5,490.7 217.5,470.2 286,477.9 229,498.4" fill="#7a60bc" fill-opacity="0.95"/><polygon points="286,477.9 343,457.4 411.5,465.1 354.5,485.6" fill="#7a60bc" fill-opacity="0.95"/><polygon points="411.5,465.1 468.5,444.6 537,452.3 480,472.8" fill="#7a60bc" fill-opacity="0.95"/><polygon points="46.5,531.8 103.5,511.2 172,519 115,539.5" fill="#7a60bc" fill-opacity="0.95"/><polygon points="172,519 229,498.5 297.5,506.2 240.5,526.8" fill="#7a60bc" fill-opacity="0.95"/><polygon points="297.5,506.2 354.5,485.7 423,493.4 366,514" fill="#7a60bc" fill-opacity="0.95"/><polygon points="423,493.4 480,472.9 548.5,480.6 491.5,501.1" fill="#7a60bc" fill-opacity="0.95"/><polygon points="58,560.1 115,539.6 183.5,547.3 126.5,567.9" fill="#7a60bc" fill-opacity="0.95"/><polygon points="183.5,547.3 240.5,526.8 309,534.5 252,555" fill="#7a60bc" fill-opacity="0.95"/><polygon points="309,534.5 366,514 434.5,521.7 377.5,542.2" fill="#7a60bc" fill-opacity="0.95"/><polygon points="434.5,521.7 491.5,501.1 560,508.9 503,529.4" fill="#7a60bc" fill-opacity="0.95"/><polygon points="35,631 92,610.5 160.5,618.2 103.5,638.8" fill="#7a60bc" fill-opacity="0.95"/><polygon points="160.5,618.2 217.5,597.6 286,605.4 229,625.9" fill="#7a60bc" fill-opacity="0.95"/><polygon points="286,605.4 343,584.9 411.5,592.6 354.5,613.1" fill="#7a60bc" fill-opacity="0.95"/><polygon points="411.5,592.6 468.5,572.1 537,579.8 480,600.4" fill="#7a60bc" fill-opacity="0.95"/><polygon points="46.5,659.3 103.5,638.8 172,646.5 115,667" fill="#7a60bc" fill-opacity="0.95"/><polygon points="172,646.5 229,626 297.5,633.7 240.5,654.2" fill="#7a60bc" fill-opacity="0.95"/><polygon points="297.5,633.7 354.5,613.1 423,620.9 366,641.4" fill="#7a60bc" fill-opacity="0.95"/><polygon points="423,620.9 480,600.4 548.5,608.1 491.5,628.6" fill="#7a60bc" fill-opacity="0.95"/><polygon points="58,687.6 115,667.1 183.5,674.8 126.5,695.4" fill="#7a60bc" fill-opacity="0.95"/><polygon points="183.5,674.8 240.5,654.2 309,662 252,682.5" fill="#7a60bc" fill-opacity="0.95"/><polygon points="309,662 366,641.5 434.5,649.2 377.5,669.8" fill="#7a60bc" fill-opacity="0.95"/><polygon points="434.5,649.2 491.5,628.6 560,636.4 503,656.9" fill="#7a60bc" fill-opacity="0.95"/></g>
<g stroke="#3a2a2a" stroke-width="1.2"><circle cx="97.8" cy="242.1" r="7.3" fill="url(#gAl)"/><circle cx="223.2" cy="229.3" r="7.3" fill="url(#gAl)"/><circle cx="348.8" cy="216.5" r="7.3" fill="url(#gAl)"/><circle cx="474.2" cy="203.7" r="7.3" fill="url(#gAl)"/><circle cx="109.2" cy="270.4" r="7.3" fill="url(#gAl)"/><circle cx="234.8" cy="257.6" r="7.3" fill="url(#gAl)"/><circle cx="360.2" cy="244.8" r="7.3" fill="url(#gAl)"/><circle cx="485.8" cy="232" r="7.3" fill="url(#gAl)"/><circle cx="120.8" cy="298.7" r="7.3" fill="url(#gAl)"/><circle cx="246.2" cy="285.9" r="7.3" fill="url(#gAl)"/><circle cx="371.8" cy="273.1" r="7.3" fill="url(#gAl)"/><circle cx="497.2" cy="260.3" r="7.3" fill="url(#gAl)"/><circle cx="97.8" cy="369.6" r="7.3" fill="url(#gAl)"/><circle cx="223.2" cy="356.8" r="7.3" fill="url(#gAl)"/><circle cx="348.8" cy="344" r="7.3" fill="url(#gAl)"/><circle cx="474.2" cy="331.2" r="7.3" fill="url(#gAl)"/><circle cx="109.2" cy="397.9" r="7.3" fill="url(#gAl)"/><circle cx="234.8" cy="385.1" r="7.3" fill="url(#gAl)"/><circle cx="360.2" cy="372.3" r="7.3" fill="url(#gAl)"/><circle cx="485.8" cy="359.5" r="7.3" fill="url(#gAl)"/><circle cx="120.8" cy="426.2" r="7.3" fill="url(#gAl)"/><circle cx="246.2" cy="413.4" r="7.3" fill="url(#gAl)"/><circle cx="371.8" cy="400.6" r="7.3" fill="url(#gAl)"/><circle cx="497.2" cy="387.8" r="7.3" fill="url(#gAl)"/><circle cx="97.8" cy="497.1" r="7.3" fill="url(#gTi)"/><circle cx="223.2" cy="484.3" r="7.3" fill="url(#gTi)"/><circle cx="348.8" cy="471.5" r="7.3" fill="url(#gTi)"/><circle cx="474.2" cy="458.7" r="7.3" fill="url(#gTi)"/><circle cx="109.2" cy="525.4" r="7.3" fill="url(#gTi)"/><circle cx="234.8" cy="512.6" r="7.3" fill="url(#gTi)"/><circle cx="360.2" cy="499.8" r="7.3" fill="url(#gTi)"/><circle cx="485.8" cy="487" r="7.3" fill="url(#gTi)"/><circle cx="120.8" cy="553.7" r="7.3" fill="url(#gTi)"/><circle cx="246.2" cy="540.9" r="7.3" fill="url(#gTi)"/><circle cx="371.8" cy="528.1" r="7.3" fill="url(#gTi)"/><circle cx="497.2" cy="515.3" r="7.3" fill="url(#gTi)"/><circle cx="97.8" cy="624.6" r="7.3" fill="url(#gTi)"/><circle cx="223.2" cy="611.8" r="7.3" fill="url(#gTi)"/><circle cx="348.8" cy="599" r="7.3" fill="url(#gTi)"/><circle cx="474.2" cy="586.2" r="7.3" fill="url(#gTi)"/><circle cx="109.2" cy="652.9" r="7.3" fill="url(#gTi)"/><circle cx="234.8" cy="640.1" r="7.3" fill="url(#gTi)"/><circle cx="360.2" cy="627.3" r="7.3" fill="url(#gTi)"/><circle cx="485.8" cy="614.5" r="7.3" fill="url(#gTi)"/><circle cx="120.8" cy="681.2" r="7.3" fill="url(#gTi)"/><circle cx="246.2" cy="668.4" r="7.3" fill="url(#gTi)"/><circle cx="371.8" cy="655.6" r="7.3" fill="url(#gTi)"/><circle cx="497.2" cy="642.8" r="7.3" fill="url(#gTi)"/></g>
<g stroke="#b4b4b4" stroke-width="1"><circle cx="474.8" cy="139.9" r="10.8" fill="url(#gO)"/><circle cx="349.2" cy="152.8" r="10.8" fill="url(#gO)"/><circle cx="223.8" cy="165.6" r="10.8" fill="url(#gO)"/><circle cx="486.2" cy="168.2" r="10.8" fill="url(#gO)"/><circle cx="98.2" cy="178.3" r="10.8" fill="url(#gO)"/><circle cx="360.8" cy="181.1" r="10.8" fill="url(#gO)"/><circle cx="468.5" cy="189.5" r="10.8" fill="url(#gO)"/><circle cx="235.2" cy="193.9" r="10.8" fill="url(#gO)"/><circle cx="497.8" cy="196.6" r="10.8" fill="url(#gO)"/><circle cx="537" cy="197.3" r="10.8" fill="url(#gO)"/><circle cx="343" cy="202.3" r="10.8" fill="url(#gO)"/><circle cx="109.8" cy="206.6" r="10.8" fill="url(#gO)"/><circle cx="372.2" cy="209.4" r="10.8" fill="url(#gO)"/><circle cx="411.5" cy="210.1" r="10.8" fill="url(#gO)"/><circle cx="217.5" cy="215.2" r="10.8" fill="url(#gO)"/><circle cx="480" cy="217.8" r="10.8" fill="url(#gO)"/><circle cx="246.8" cy="222.1" r="10.8" fill="url(#gO)"/><circle cx="286" cy="222.9" r="10.8" fill="url(#gO)"/><circle cx="548.5" cy="225.6" r="10.8" fill="url(#gO)"/><circle cx="92" cy="227.9" r="10.8" fill="url(#gO)"/><circle cx="354.5" cy="230.7" r="10.8" fill="url(#gO)"/><circle cx="121.2" cy="234.9" r="10.8" fill="url(#gO)"/><circle cx="160.5" cy="235.7" r="10.8" fill="url(#gO)"/><circle cx="423" cy="238.4" r="10.8" fill="url(#gO)"/><circle cx="229" cy="243.5" r="10.8" fill="url(#gO)"/><circle cx="491.5" cy="246.2" r="10.8" fill="url(#gO)"/><circle cx="35" cy="248.5" r="10.8" fill="url(#gO)"/><circle cx="297.5" cy="251.2" r="10.8" fill="url(#gO)"/><circle cx="560" cy="253.9" r="10.8" fill="url(#gO)"/><circle cx="103.5" cy="256.2" r="10.8" fill="url(#gO)"/><circle cx="366" cy="259" r="10.8" fill="url(#gO)"/><circle cx="172" cy="264" r="10.8" fill="url(#gO)"/><circle cx="434.5" cy="266.7" r="10.8" fill="url(#gO)"/><circle cx="473.8" cy="267.4" r="10.8" fill="url(#gO)"/><circle cx="474.8" cy="267.4" r="10.8" fill="url(#gO)"/><circle cx="240.5" cy="271.8" r="10.8" fill="url(#gO)"/><circle cx="503" cy="274.4" r="10.8" fill="url(#gO)"/><circle cx="46.5" cy="276.8" r="10.8" fill="url(#gO)"/><circle cx="309" cy="279.5" r="10.8" fill="url(#gO)"/><circle cx="348.2" cy="280.2" r="10.8" fill="url(#gO)"/><circle cx="349.2" cy="280.2" r="10.8" fill="url(#gO)"/><circle cx="115" cy="284.6" r="10.8" fill="url(#gO)"/><circle cx="377.5" cy="287.2" r="10.8" fill="url(#gO)"/><circle cx="183.5" cy="292.3" r="10.8" fill="url(#gO)"/><circle cx="222.8" cy="293.1" r="10.8" fill="url(#gO)"/><circle cx="223.8" cy="293.1" r="10.8" fill="url(#gO)"/><circle cx="485.2" cy="295.8" r="10.8" fill="url(#gO)"/><circle cx="486.2" cy="295.8" r="10.8" fill="url(#gO)"/><circle cx="252" cy="300" r="10.8" fill="url(#gO)"/><circle cx="58" cy="305.1" r="10.8" fill="url(#gO)"/><circle cx="97.2" cy="305.9" r="10.8" fill="url(#gO)"/><circle cx="98.2" cy="305.9" r="10.8" fill="url(#gO)"/><circle cx="359.8" cy="308.6" r="10.8" fill="url(#gO)"/><circle cx="360.8" cy="308.6" r="10.8" fill="url(#gO)"/><circle cx="126.5" cy="312.8" r="10.8" fill="url(#gO)"/><circle cx="468.5" cy="317.1" r="10.8" fill="url(#gO)"/><circle cx="234.2" cy="321.4" r="10.8" fill="url(#gO)"/><circle cx="235.2" cy="321.4" r="10.8" fill="url(#gO)"/><circle cx="496.8" cy="324.1" r="10.8" fill="url(#gO)"/><circle cx="497.8" cy="324.1" r="10.8" fill="url(#gO)"/><circle cx="537" cy="324.8" r="10.8" fill="url(#gO)"/><circle cx="343" cy="329.9" r="10.8" fill="url(#gO)"/><circle cx="108.8" cy="334.1" r="10.8" fill="url(#gO)"/><circle cx="109.8" cy="334.1" r="10.8" fill="url(#gO)"/><circle cx="371.2" cy="336.9" r="10.8" fill="url(#gO)"/><circle cx="372.2" cy="336.9" r="10.8" fill="url(#gO)"/><circle cx="411.5" cy="337.6" r="10.8" fill="url(#gO)"/><circle cx="217.5" cy="342.7" r="10.8" fill="url(#gO)"/><circle cx="480" cy="345.4" r="10.8" fill="url(#gO)"/><circle cx="245.8" cy="349.6" r="10.8" fill="url(#gO)"/><circle cx="246.8" cy="349.6" r="10.8" fill="url(#gO)"/><circle cx="286" cy="350.4" r="10.8" fill="url(#gO)"/><circle cx="548.5" cy="353.1" r="10.8" fill="url(#gO)"/><circle cx="92" cy="355.5" r="10.8" fill="url(#gO)"/><circle cx="354.5" cy="358.2" r="10.8" fill="url(#gO)"/><circle cx="120.2" cy="362.4" r="10.8" fill="url(#gO)"/><circle cx="121.2" cy="362.4" r="10.8" fill="url(#gO)"/><circle cx="160.5" cy="363.2" r="10.8" fill="url(#gO)"/><circle cx="423" cy="365.9" r="10.8" fill="url(#gO)"/><circle cx="229" cy="371" r="10.8" fill="url(#gO)"/><circle cx="491.5" cy="373.7" r="10.8" fill="url(#gO)"/><circle cx="35" cy="376" r="10.8" fill="url(#gO)"/><circle cx="297.5" cy="378.7" r="10.8" fill="url(#gO)"/><circle cx="560" cy="381.4" r="10.8" fill="url(#gO)"/><circle cx="103.5" cy="383.8" r="10.8" fill="url(#gO)"/><circle cx="366" cy="386.5" r="10.8" fill="url(#gO)"/><circle cx="172" cy="391.5" r="10.8" fill="url(#gO)"/><circle cx="434.5" cy="394.2" r="10.8" fill="url(#gO)"/><circle cx="473.8" cy="394.9" r="10.8" fill="url(#gO)"/><circle cx="474.8" cy="394.9" r="10.8" fill="url(#gO)"/><circle cx="240.5" cy="399.2" r="10.8" fill="url(#gO)"/><circle cx="503" cy="401.9" r="10.8" fill="url(#gO)"/><circle cx="46.5" cy="404.3" r="10.8" fill="url(#gO)"/><circle cx="309" cy="407" r="10.8" fill="url(#gO)"/><circle cx="348.2" cy="407.8" r="10.8" fill="url(#gO)"/><circle cx="349.2" cy="407.8" r="10.8" fill="url(#gO)"/><circle cx="115" cy="412.1" r="10.8" fill="url(#gO)"/><circle cx="377.5" cy="414.8" r="10.8" fill="url(#gO)"/><circle cx="183.5" cy="419.8" r="10.8" fill="url(#gO)"/><circle cx="222.8" cy="420.6" r="10.8" fill="url(#gO)"/><circle cx="223.8" cy="420.6" r="10.8" fill="url(#gO)"/><circle cx="485.2" cy="423.2" r="10.8" fill="url(#gO)"/><circle cx="486.2" cy="423.2" r="10.8" fill="url(#gO)"/><circle cx="252" cy="427.5" r="10.8" fill="url(#gO)"/><circle cx="58" cy="432.6" r="10.8" fill="url(#gO)"/><circle cx="97.2" cy="433.4" r="10.8" fill="url(#gO)"/><circle cx="98.2" cy="433.4" r="10.8" fill="url(#gO)"/><circle cx="359.8" cy="436.1" r="10.8" fill="url(#gO)"/><circle cx="360.8" cy="436.1" r="10.8" fill="url(#gO)"/><circle cx="126.5" cy="440.3" r="10.8" fill="url(#gO)"/><circle cx="468.5" cy="444.6" r="10.8" fill="url(#gO)"/><circle cx="234.2" cy="448.9" r="10.8" fill="url(#gO)"/><circle cx="235.2" cy="448.9" r="10.8" fill="url(#gO)"/><circle cx="497.8" cy="451.5" r="10.8" fill="url(#gO)"/><circle cx="496.8" cy="451.6" r="10.8" fill="url(#gO)"/><circle cx="537" cy="452.3" r="10.8" fill="url(#gO)"/><circle cx="343" cy="457.4" r="10.8" fill="url(#gO)"/><circle cx="108.8" cy="461.6" r="10.8" fill="url(#gO)"/><circle cx="109.8" cy="461.6" r="10.8" fill="url(#gO)"/><circle cx="371.2" cy="464.4" r="10.8" fill="url(#gO)"/><circle cx="372.2" cy="464.4" r="10.8" fill="url(#gO)"/><circle cx="411.5" cy="465.1" r="10.8" fill="url(#gO)"/><circle cx="217.5" cy="470.2" r="10.8" fill="url(#gO)"/><circle cx="480" cy="472.9" r="10.8" fill="url(#gO)"/><circle cx="245.8" cy="477.1" r="10.8" fill="url(#gO)"/><circle cx="246.8" cy="477.1" r="10.8" fill="url(#gO)"/><circle cx="286" cy="477.9" r="10.8" fill="url(#gO)"/><circle cx="548.5" cy="480.6" r="10.8" fill="url(#gO)"/><circle cx="92" cy="483" r="10.8" fill="url(#gO)"/><circle cx="354.5" cy="485.7" r="10.8" fill="url(#gO)"/><circle cx="120.2" cy="489.9" r="10.8" fill="url(#gO)"/><circle cx="121.2" cy="490" r="10.8" fill="url(#gO)"/><circle cx="160.5" cy="490.7" r="10.8" fill="url(#gO)"/><circle cx="423" cy="493.4" r="10.8" fill="url(#gO)"/><circle cx="229" cy="498.5" r="10.8" fill="url(#gO)"/><circle cx="491.5" cy="501.1" r="10.8" fill="url(#gO)"/><circle cx="35" cy="503.5" r="10.8" fill="url(#gO)"/><circle cx="297.5" cy="506.2" r="10.8" fill="url(#gO)"/><circle cx="560" cy="508.9" r="10.8" fill="url(#gO)"/><circle cx="103.5" cy="511.2" r="10.8" fill="url(#gO)"/><circle cx="366" cy="514" r="10.8" fill="url(#gO)"/><circle cx="172" cy="519" r="10.8" fill="url(#gO)"/><circle cx="434.5" cy="521.7" r="10.8" fill="url(#gO)"/><circle cx="473.8" cy="522.5" r="10.8" fill="url(#gO)"/><circle cx="474.8" cy="522.5" r="10.8" fill="url(#gO)"/><circle cx="240.5" cy="526.8" r="10.8" fill="url(#gO)"/><circle cx="503" cy="529.4" r="10.8" fill="url(#gO)"/><circle cx="46.5" cy="531.8" r="10.8" fill="url(#gO)"/><circle cx="309" cy="534.5" r="10.8" fill="url(#gO)"/><circle cx="348.2" cy="535.2" r="10.8" fill="url(#gO)"/><circle cx="349.2" cy="535.2" r="10.8" fill="url(#gO)"/><circle cx="115" cy="539.6" r="10.8" fill="url(#gO)"/><circle cx="377.5" cy="542.2" r="10.8" fill="url(#gO)"/><circle cx="183.5" cy="547.3" r="10.8" fill="url(#gO)"/><circle cx="222.8" cy="548" r="10.8" fill="url(#gO)"/><circle cx="223.8" cy="548" r="10.8" fill="url(#gO)"/><circle cx="485.2" cy="550.8" r="10.8" fill="url(#gO)"/><circle cx="486.2" cy="550.8" r="10.8" fill="url(#gO)"/><circle cx="252" cy="555" r="10.8" fill="url(#gO)"/><circle cx="58" cy="560.1" r="10.8" fill="url(#gO)"/><circle cx="97.2" cy="560.9" r="10.8" fill="url(#gO)"/><circle cx="98.2" cy="560.9" r="10.8" fill="url(#gO)"/><circle cx="359.8" cy="563.5" r="10.8" fill="url(#gO)"/><circle cx="360.8" cy="563.5" r="10.8" fill="url(#gO)"/><circle cx="126.5" cy="567.9" r="10.8" fill="url(#gO)"/><circle cx="468.5" cy="572.1" r="10.8" fill="url(#gO)"/><circle cx="234.2" cy="576.4" r="10.8" fill="url(#gO)"/><circle cx="235.2" cy="576.4" r="10.8" fill="url(#gO)"/><circle cx="496.8" cy="579" r="10.8" fill="url(#gO)"/><circle cx="497.8" cy="579" r="10.8" fill="url(#gO)"/><circle cx="537" cy="579.8" r="10.8" fill="url(#gO)"/><circle cx="343" cy="584.9" r="10.8" fill="url(#gO)"/><circle cx="108.8" cy="589.1" r="10.8" fill="url(#gO)"/><circle cx="109.8" cy="589.1" r="10.8" fill="url(#gO)"/><circle cx="371.2" cy="591.9" r="10.8" fill="url(#gO)"/><circle cx="372.2" cy="591.9" r="10.8" fill="url(#gO)"/><circle cx="411.5" cy="592.6" r="10.8" fill="url(#gO)"/><circle cx="217.5" cy="597.6" r="10.8" fill="url(#gO)"/><circle cx="480" cy="600.4" r="10.8" fill="url(#gO)"/><circle cx="245.8" cy="604.6" r="10.8" fill="url(#gO)"/><circle cx="246.8" cy="604.6" r="10.8" fill="url(#gO)"/><circle cx="286" cy="605.4" r="10.8" fill="url(#gO)"/><circle cx="548.5" cy="608.1" r="10.8" fill="url(#gO)"/><circle cx="92" cy="610.5" r="10.8" fill="url(#gO)"/><circle cx="354.5" cy="613.1" r="10.8" fill="url(#gO)"/><circle cx="120.2" cy="617.5" r="10.8" fill="url(#gO)"/><circle cx="121.2" cy="617.5" r="10.8" fill="url(#gO)"/><circle cx="160.5" cy="618.2" r="10.8" fill="url(#gO)"/><circle cx="423" cy="620.9" r="10.8" fill="url(#gO)"/><circle cx="229" cy="626" r="10.8" fill="url(#gO)"/><circle cx="491.5" cy="628.6" r="10.8" fill="url(#gO)"/><circle cx="35" cy="631" r="10.8" fill="url(#gO)"/><circle cx="297.5" cy="633.7" r="10.8" fill="url(#gO)"/><circle cx="560" cy="636.4" r="10.8" fill="url(#gO)"/><circle cx="103.5" cy="638.8" r="10.8" fill="url(#gO)"/><circle cx="366" cy="641.5" r="10.8" fill="url(#gO)"/><circle cx="172" cy="646.5" r="10.8" fill="url(#gO)"/><circle cx="434.5" cy="649.2" r="10.8" fill="url(#gO)"/><circle cx="473.8" cy="650" r="10.8" fill="url(#gO)"/><circle cx="240.5" cy="654.2" r="10.8" fill="url(#gO)"/><circle cx="503" cy="656.9" r="10.8" fill="url(#gO)"/><circle cx="46.5" cy="659.3" r="10.8" fill="url(#gO)"/><circle cx="309" cy="662" r="10.8" fill="url(#gO)"/><circle cx="348.2" cy="662.8" r="10.8" fill="url(#gO)"/><circle cx="115" cy="667.1" r="10.8" fill="url(#gO)"/><circle cx="377.5" cy="669.8" r="10.8" fill="url(#gO)"/><circle cx="183.5" cy="674.8" r="10.8" fill="url(#gO)"/><circle cx="222.8" cy="675.5" r="10.8" fill="url(#gO)"/><circle cx="485.2" cy="678.2" r="10.8" fill="url(#gO)"/><circle cx="252" cy="682.5" r="10.8" fill="url(#gO)"/><circle cx="58" cy="687.6" r="10.8" fill="url(#gO)"/><circle cx="97.2" cy="688.4" r="10.8" fill="url(#gO)"/><circle cx="359.8" cy="691" r="10.8" fill="url(#gO)"/><circle cx="126.5" cy="695.4" r="10.8" fill="url(#gO)"/><circle cx="234.2" cy="703.9" r="10.8" fill="url(#gO)"/><circle cx="496.8" cy="706.5" r="10.8" fill="url(#gO)"/><circle cx="108.8" cy="716.6" r="10.8" fill="url(#gO)"/><circle cx="371.2" cy="719.4" r="10.8" fill="url(#gO)"/><circle cx="245.8" cy="732.1" r="10.8" fill="url(#gO)"/><circle cx="120.2" cy="745" r="10.8" fill="url(#gO)"/></g>
<g><circle cx="166.2" cy="313.6" r="13.8" fill="url(#gLa)" stroke="#6a5040" stroke-width="1"/><circle cx="291.8" cy="300.8" r="13.8" fill="url(#gLa)" stroke="#6a5040" stroke-width="1"/><circle cx="417.2" cy="288" r="13.8" fill="url(#gLa)" stroke="#6a5040" stroke-width="1"/><circle cx="177.8" cy="341.9" r="13.8" fill="url(#gLa)" stroke="#141414" stroke-width="1.8"/><circle cx="303.2" cy="329.1" r="13.8" fill="url(#gLa)" stroke="#141414" stroke-width="1.8"/><circle cx="428.8" cy="316.3" r="13.8" fill="url(#gLa)" stroke="#141414" stroke-width="1.8"/><circle cx="166.2" cy="441.1" r="13.8" fill="url(#gLa)" stroke="#6a5040" stroke-width="1"/><circle cx="291.8" cy="428.3" r="13.8" fill="url(#gLa)" stroke="#6a5040" stroke-width="1"/><circle cx="417.2" cy="415.5" r="13.8" fill="url(#gLa)" stroke="#6a5040" stroke-width="1"/><circle cx="177.8" cy="469.4" r="13.8" fill="url(#gLa)" stroke="#141414" stroke-width="1.8"/><circle cx="303.2" cy="456.6" r="13.8" fill="url(#gLa)" stroke="#141414" stroke-width="1.8"/><circle cx="428.8" cy="443.8" r="13.8" fill="url(#gLa)" stroke="#141414" stroke-width="1.8"/><circle cx="166.2" cy="568.6" r="13.8" fill="url(#gSr)" stroke="#1a2a30" stroke-width="1.3"/><circle cx="291.8" cy="555.8" r="13.8" fill="url(#gSr)" stroke="#1a2a30" stroke-width="1.3"/><circle cx="417.2" cy="543" r="13.8" fill="url(#gSr)" stroke="#1a2a30" stroke-width="1.3"/><circle cx="177.8" cy="596.9" r="13.8" fill="url(#gSr)" stroke="#141414" stroke-width="1.8"/><circle cx="303.2" cy="584.1" r="13.8" fill="url(#gSr)" stroke="#141414" stroke-width="1.8"/><circle cx="428.8" cy="571.3" r="13.8" fill="url(#gSr)" stroke="#141414" stroke-width="1.8"/><circle cx="166.2" cy="696.1" r="13.8" fill="url(#gSr)" stroke="#1a2a30" stroke-width="1.3"/><circle cx="291.8" cy="683.3" r="13.8" fill="url(#gSr)" stroke="#1a2a30" stroke-width="1.3"/><circle cx="417.2" cy="670.5" r="13.8" fill="url(#gSr)" stroke="#1a2a30" stroke-width="1.3"/><circle cx="177.8" cy="724.4" r="13.8" fill="url(#gSr)" stroke="#141414" stroke-width="1.8"/><circle cx="303.2" cy="711.6" r="13.8" fill="url(#gSr)" stroke="#141414" stroke-width="1.8"/><circle cx="428.8" cy="698.8" r="13.8" fill="url(#gSr)" stroke="#141414" stroke-width="1.8"/></g>
<text x="613.5" y="235.3" font-size="26" fill="#c0143c" font-family="'Liberation Sans', sans-serif" stroke="#c0143c" stroke-width="0.6">(AlO<tspan font-size="15" dy="5">2</tspan><tspan dy="-5">)</tspan><tspan font-size="16" dy="-9" dx="1">&#8211;</tspan></text><text x="613.5" y="300.7" font-size="26" fill="#e6a024" font-family="'Liberation Sans', sans-serif">(LaO)<tspan font-size="16" dy="-8" dx="1">+</tspan></text><text x="613.5" y="366" font-size="26" fill="#c0143c" font-family="'Liberation Sans', sans-serif" stroke="#c0143c" stroke-width="0.6">(AlO<tspan font-size="15" dy="5">2</tspan><tspan dy="-5">)</tspan><tspan font-size="16" dy="-9" dx="1">&#8211;</tspan></text><text x="613.5" y="430" font-size="26" fill="#e6a024" font-family="'Liberation Sans', sans-serif">(LaO)<tspan font-size="16" dy="-8" dx="1">+</tspan></text><text x="613.5" y="495.4" font-size="26" fill="#33287a" font-family="'Liberation Sans', sans-serif">(TiO<tspan font-size="15" dy="5">2</tspan><tspan dy="-5">)</tspan><tspan font-size="16" dy="-11" dx="1.5">0</tspan></text><text x="613.5" y="559.3" font-size="26" fill="#1ea3b8" font-family="'Liberation Sans', sans-serif">(SrO)<tspan font-size="16" dy="-11" dx="1.5">0</tspan></text><text x="613.5" y="624.7" font-size="26" fill="#33287a" font-family="'Liberation Sans', sans-serif">(TiO<tspan font-size="15" dy="5">2</tspan><tspan dy="-5">)</tspan><tspan font-size="16" dy="-11" dx="1.5">0</tspan></text><text x="613.5" y="688.5" font-size="26" fill="#1ea3b8" font-family="'Liberation Sans', sans-serif">(SrO)<tspan font-size="16" dy="-11" dx="1.5">0</tspan></text>
<text x="36.5" y="72" font-size="50" font-family="'Liberation Sans', sans-serif">(a)</text>
<defs>
<clipPath id="cpB"><path d="M837,66 L912.4,66 L912.4,4.5 L1285.5,4.5 L1285.5,816 L837,816 Z"/></clipPath>
<linearGradient id="tbg" gradientUnits="userSpaceOnUse" x1="0" y1="4" x2="0" y2="816">
<stop offset="0" stop-color="#333"/>
<stop offset="0.035" stop-color="#3b3b3c"/>
<stop offset="0.06" stop-color="#474749"/>
<stop offset="0.072" stop-color="#5f6062"/>
<stop offset="0.085" stop-color="#8c8d90"/>
<stop offset="0.1" stop-color="#9a9ca0"/>
<stop offset="0.36" stop-color="#9a9ca0"/>
<stop offset="0.385" stop-color="#8c8d91"/>
<stop offset="0.42" stop-color="#87888c"/>
<stop offset="0.7" stop-color="#8e9094"/>
<stop offset="1" stop-color="#95979b"/>
</linearGradient>
<radialGradient id="dotL"><stop offset="0" stop-color="#f4f5fa" stop-opacity="0.85"/><stop offset="0.4" stop-color="#f4f5fa" stop-opacity="0.6"/><stop offset="1" stop-color="#f4f5fa" stop-opacity="0"/></radialGradient>
<radialGradient id="dotS"><stop offset="0" stop-color="#fff" stop-opacity="0.62"/><stop offset="0.45" stop-color="#fff" stop-opacity="0.38"/><stop offset="1" stop-color="#fff" stop-opacity="0"/></radialGradient>
<radialGradient id="dotS2"><stop offset="0" stop-color="#fff" stop-opacity="0.12"/><stop offset="1" stop-color="#fff" stop-opacity="0"/></radialGradient>
<pattern id="patL" x="837.65" y="58.35" width="17.3" height="17.1" patternUnits="userSpaceOnUse"><circle cx="8.65" cy="8.55" r="7.2" fill="url(#dotL)"/></pattern>
<pattern id="patS" x="835.03" y="313.5" width="17.54" height="17.8" patternUnits="userSpaceOnUse"><circle cx="8.77" cy="8.9" r="6.3" fill="url(#dotS)"/><circle cx="0" cy="0" r="4.5" fill="url(#dotS2)"/><circle cx="17.54" cy="0" r="4.5" fill="url(#dotS2)"/><circle cx="0" cy="17.8" r="4.5" fill="url(#dotS2)"/><circle cx="17.54" cy="17.8" r="4.5" fill="url(#dotS2)"/></pattern>
<linearGradient id="mLg" gradientUnits="userSpaceOnUse" x1="0" y1="55" x2="0" y2="320">
<stop offset="0" stop-color="#fff" stop-opacity="0"/><stop offset="0.03" stop-color="#fff" stop-opacity="0.45"/><stop offset="0.07" stop-color="#fff" stop-opacity="1"/><stop offset="0.93" stop-color="#fff" stop-opacity="1"/><stop offset="0.985" stop-color="#fff" stop-opacity="0"/><stop offset="1" stop-color="#fff" stop-opacity="0"/>
</linearGradient>
<mask id="mL"><rect x="830" y="0" width="470" height="820" fill="url(#mLg)"/></mask>
<linearGradient id="mSg" gradientUnits="userSpaceOnUse" x1="0" y1="308" x2="0" y2="816">
<stop offset="0" stop-color="#fff" stop-opacity="0"/><stop offset="0.03" stop-color="#fff" stop-opacity="0.6"/><stop offset="0.3" stop-color="#fff" stop-opacity="0.65"/><stop offset="0.6" stop-color="#fff" stop-opacity="0.9"/><stop offset="1" stop-color="#fff" stop-opacity="1"/>
</linearGradient>
<mask id="mS"><rect x="830" y="0" width="470" height="820" fill="url(#mSg)"/></mask>
<linearGradient id="dband" gradientUnits="userSpaceOnUse" x1="0" y1="290" x2="0" y2="816">
<stop offset="0" stop-color="#000" stop-opacity="0"/><stop offset="0.06" stop-color="#000" stop-opacity="0.06"/><stop offset="0.2" stop-color="#000" stop-opacity="0.08"/><stop offset="0.35" stop-color="#000" stop-opacity="0.05"/><stop offset="0.55" stop-color="#000" stop-opacity="0"/><stop offset="0.7" stop-color="#fff" stop-opacity="0.04"/><stop offset="1" stop-color="#fff" stop-opacity="0.08"/>
</linearGradient>
</defs>
<g clip-path="url(#cpB)">
<rect x="830" y="0" width="470" height="820" fill="url(#tbg)"/>
<rect x="830" y="0" width="470" height="820" fill="url(#patL)" mask="url(#mL)"/>
<rect x="830" y="0" width="470" height="820" fill="url(#patS)" mask="url(#mS)"/>
<rect x="830" y="290" width="470" height="530" fill="url(#dband)"/>
</g>
<path d="M837,66 L912.4,66 L912.4,4.5 L1285.5,4.5 L1285.5,816 L837,816 Z" fill="none" stroke="#555" stroke-width="1.2"/>
<text x="861" y="199.5" font-size="40" letter-spacing="2.1" fill="#2e2e2e" font-family="'Liberation Sans', sans-serif">LaAlO<tspan font-size="25" dy="14" dx="1.5" letter-spacing="0">3</tspan></text>
<text x="863" y="581" font-size="40" letter-spacing="1.6" fill="#2e2e2e" font-family="'Liberation Sans', sans-serif">SrTiO<tspan font-size="25" dy="13" letter-spacing="0">3</tspan></text>
<rect x="1146" y="726" width="117" height="72.5" fill="#fff" stroke="#444" stroke-width="1.5"/>
<text x="1160.5" y="768.5" font-size="40" fill="#1a1a1a" font-family="'Liberation Sans', sans-serif">2 nm</text>
<rect x="1162.5" y="779" width="86.5" height="7" fill="#1a1a1a"/>
<text x="844" y="47.5" font-size="50" font-family="'Liberation Sans', sans-serif">(b)</text>
<defs><clipPath id="cpC"><rect x="158.6" y="845.9" width="438.4" height="316.1"/></clipPath></defs>
<line x1="158.6" y1="1147.6" x2="597" y2="1147.6" stroke="#222" stroke-width="2" stroke-dasharray="4,6"/>
<g clip-path="url(#cpC)">
<path d="M202.5,1150.6 C204.2,1148.6 209.7,1141.3 212.9,1138.4 C216.1,1135.5 218.6,1135.6 221.5,1133.3 C224.4,1131 227.6,1128.6 230.2,1124.6 C232.8,1120.5 234.5,1115.6 237.1,1109 C239.7,1102.4 242.8,1092.3 245.7,1084.8 C248.6,1077.3 251.5,1069.5 254.4,1064 C257.3,1058.5 260.1,1056.3 263,1052 C265.9,1047.7 269.2,1042.6 271.7,1038 C274.1,1033.4 276,1030.3 277.7,1024.3 C279.4,1018.3 280.4,1009.6 282,1001.8 C283.6,994 285.5,984.5 287.2,977.6 C288.9,970.7 290.4,966.1 292.4,960.3 C294.4,954.5 296.7,948.2 299.3,943 C301.9,937.8 304.8,933.5 308,929.2 C311.2,924.9 313.8,920.9 318.4,917.1 C323,913.4 329.9,909.6 335.7,906.7 C341.5,903.8 347.2,901.8 353,899.8 C358.8,897.8 362.4,896.5 370.2,894.6 C378,892.7 381.8,890.6 399.6,888.5 C417.4,886.4 453.5,883.3 476.9,882 C500.3,880.7 518.6,880.9 540,880.5 C561.4,880.1 594.2,879.8 605,879.6" fill="none" stroke="#ee2a32" stroke-width="8.8" stroke-linejoin="round" stroke-linecap="round" />
<polyline points="190.4,1147.8 387.5,1147.8 389.5,1144 392,1133 395.5,1120 399.5,1110 404,1103.5 410,1099 418,1096.3 432,1094.2 453,1092.8 524.6,1090.9 605,1089.4" fill="none" stroke="#3a53a5" stroke-width="8.8" stroke-linejoin="round" stroke-linecap="butt" />
</g>
<g stroke="#222" stroke-width="2"><path d="M159.2,1162v-13M159.2,845.9v13M221.5,1162v-6.5M221.5,845.9v6.5M283.9,1162v-13M283.9,845.9v13M346.2,1162v-6.5M346.2,845.9v6.5M408.6,1162v-13M408.6,845.9v13M470.9,1162v-6.5M470.9,845.9v6.5M533.2,1162v-13M533.2,845.9v13M595.6,1162v-6.5M595.6,845.9v6.5M158.6,1147.6h13M597,1147.6h-13M158.6,1109.7h6.5M597,1109.7h-6.5M158.6,1071.8h13M597,1071.8h-13M158.6,1033.9h6.5M597,1033.9h-6.5M158.6,996h13M597,996h-13M158.6,958.1h6.5M597,958.1h-6.5M158.6,920.2h13M597,920.2h-13M158.6,882.3h6.5M597,882.3h-6.5M158.6,844.4h13M597,844.4h-13" fill="none"/></g>
<rect x="158.6" y="845.9" width="438.4" height="316.1" fill="none" stroke="#222" stroke-width="2"/>
<text x="159.2" y="1210" font-size="38" text-anchor="middle" font-family="'Liberation Sans', sans-serif">0.0</text>
<text x="283.9" y="1210" font-size="38" text-anchor="middle" font-family="'Liberation Sans', sans-serif">0.1</text>
<text x="408.6" y="1210" font-size="38" text-anchor="middle" font-family="'Liberation Sans', sans-serif">0.2</text>
<text x="533.2" y="1210" font-size="38" text-anchor="middle" font-family="'Liberation Sans', sans-serif">0.3</text>
<text x="143.8" y="1161.1" font-size="38" text-anchor="end" font-family="'Liberation Sans', sans-serif">0.0</text>
<text x="143.8" y="1085.3" font-size="38" text-anchor="end" font-family="'Liberation Sans', sans-serif">0.5</text>
<text x="143.8" y="1009.5" font-size="38" text-anchor="end" font-family="'Liberation Sans', sans-serif">1.0</text>
<text x="143.8" y="933.7" font-size="38" text-anchor="end" font-family="'Liberation Sans', sans-serif">1.5</text>
<text x="143.8" y="857.9" font-size="38" text-anchor="end" font-family="'Liberation Sans', sans-serif">2.0</text>
<text x="337" y="1256.8" font-size="38" font-family="'Liberation Sans', sans-serif"><tspan font-style="italic">T</tspan> (K)</text>
<g transform="translate(66.6,1116) rotate(-90)"><text x="0" y="0" font-size="38" font-family="'Liberation Sans', sans-serif"><tspan font-style="italic">R</tspan><tspan font-size="24" dy="16" dx="1">sheet</tspan></text><text x="98.7" y="0" font-size="38" font-family="'Liberation Sans', sans-serif">(k&#937;/</text><rect x="171.5" y="-27" width="25.7" height="25" fill="none" stroke="#000" stroke-width="3"/><text x="201.5" y="0" font-size="38" font-family="'Liberation Sans', sans-serif">)</text></g>
<text x="192" y="976.7" font-size="34" font-family="'Liberation Sans', sans-serif">15uc</text>
<text x="302.5" y="1131" font-size="34" font-family="'Liberation Sans', sans-serif">8uc</text>
<text x="1.5" y="863" font-size="50" font-family="'Liberation Sans', sans-serif">(c)</text>
<rect x="380.2" y="901.7" width="194.2" height="152.0" fill="#fff"/>
<defs><clipPath id="cpI"><rect x="380.2" y="901.7" width="194.2" height="152.0"/></clipPath></defs>
<line x1="380.2" y1="1039.6" x2="574.4" y2="1039.6" stroke="#222" stroke-width="2" stroke-dasharray="2,5"/>
<g clip-path="url(#cpI)">
<path d="M381,1040.6 C387.1,1040 407.9,1038.4 417.7,1036.8 C427.5,1035.2 433.9,1032.9 440,1031 C446.1,1029.1 448.3,1028.5 454.2,1025.3 C460.1,1022.1 468.7,1016.8 475.4,1011.8 C482.1,1006.8 488.2,1001.7 494.6,995.4 C501,989.1 507.4,982.5 513.8,974.2 C520.2,965.9 526.8,954.3 533,945.4 C539.2,936.5 548.2,924.9 551.3,920.8" fill="none" stroke="#ee2a32" stroke-width="5.5" stroke-linejoin="round" stroke-linecap="round" />
<path d="M381,1037.7 C387.1,1037 406.8,1035.4 417.7,1033.8 C428.6,1032.2 436.9,1030.9 446.5,1028 C456.1,1025.1 465.8,1021.3 475.4,1016.5 C485,1011.7 494.6,1006.2 504.2,999.2 C513.8,992.2 525,981.6 533,974.2 C541,966.8 546.5,960.6 552.3,955 C558.1,949.4 565.1,943 567.7,940.6" fill="none" stroke="#3a53a5" stroke-width="6.2" stroke-linejoin="round" stroke-linecap="round" />
</g>
<g stroke="#222" stroke-width="2"><path d="M411.9,1053.7v-6.5M411.9,901.7v6.5M443.6,1053.7v-13M443.6,901.7v13M475.3,1053.7v-6.5M475.3,901.7v6.5M507,1053.7v-13M507,901.7v13M538.7,1053.7v-6.5M538.7,901.7v6.5M380.2,1039.6h13M574.4,1039.6h-13M380.2,1012.1h6.5M574.4,1012.1h-6.5M380.2,984.6h13M574.4,984.6h-13M380.2,957.1h6.5M574.4,957.1h-6.5M380.2,929.6h13M574.4,929.6h-13" fill="none"/></g>
<rect x="380.2" y="901.7" width="194.2" height="152" fill="none" stroke="#222" stroke-width="2"/>
<text x="378.2" y="1084" font-size="33.5" text-anchor="middle" font-family="'Liberation Sans', sans-serif">0</text>
<text x="441.6" y="1084" font-size="33.5" text-anchor="middle" font-family="'Liberation Sans', sans-serif">100</text>
<text x="505" y="1084" font-size="33.5" text-anchor="middle" font-family="'Liberation Sans', sans-serif">200</text>
<text x="365" y="1048.1" font-size="33" text-anchor="end" font-family="'Liberation Sans', sans-serif">0</text>
<text x="365" y="993.1" font-size="33" text-anchor="end" font-family="'Liberation Sans', sans-serif">10</text>
<text x="365" y="938.1" font-size="33" text-anchor="end" font-family="'Liberation Sans', sans-serif">20</text>
<polyline points="287,1361 387,1437 503.8,1511.9 525.5,1546.2 540.4,1574.2 543.8,1588" fill="none" stroke="#5a74cc" stroke-width="2" stroke-linejoin="round" stroke-linecap="round" stroke-dasharray="1.5,6"/>
<polyline points="290.9,1512.7 316.8,1545.9 352,1587.8" fill="none" stroke="#f04048" stroke-width="2" stroke-linejoin="round" stroke-linecap="round" stroke-dasharray="1.5,6"/>
<circle cx="287" cy="1361" r="8.2" fill="#3a53a5"/>
<circle cx="387" cy="1437" r="8.2" fill="#3a53a5"/>
<circle cx="503.8" cy="1511.9" r="8.2" fill="#3a53a5"/>
<circle cx="525.5" cy="1546.2" r="8.2" fill="#3a53a5"/>
<circle cx="540.4" cy="1574.2" r="8.2" fill="#3a53a5"/>
<circle cx="543.8" cy="1588" r="8.2" fill="#3a53a5"/>
<rect x="282.9" y="1504.7" width="16" height="16" fill="#ee2a32"/>
<rect x="308.8" y="1537.9" width="16" height="16" fill="#ee2a32"/>
<rect x="344" y="1579.8" width="16" height="16" fill="#ee2a32"/>
<g stroke="#222" stroke-width="2"><path d="M208.4,1609v-6.5M208.4,1294v6.5M258.2,1609v-13M258.2,1294v13M308.1,1609v-6.5M308.1,1294v6.5M357.9,1609v-13M357.9,1294v13M407.7,1609v-6.5M407.7,1294v6.5M457.5,1609v-13M457.5,1294v13M507.3,1609v-6.5M507.3,1294v6.5M557.1,1609v-13M557.1,1294v13M158.6,1588h13M597,1588h-13M158.6,1546h6.5M597,1546h-6.5M158.6,1504h13M597,1504h-13M158.6,1462h6.5M597,1462h-6.5M158.6,1420h13M597,1420h-13M158.6,1378h6.5M597,1378h-6.5M158.6,1336h13M597,1336h-13" fill="none"/></g>
<rect x="158.6" y="1294" width="438.4" height="315" fill="none" stroke="#222" stroke-width="2"/>
<text x="158.6" y="1653.5" font-size="40" text-anchor="middle" font-family="'Liberation Sans', sans-serif">0</text>
<text x="258.2" y="1653.5" font-size="40" text-anchor="middle" font-family="'Liberation Sans', sans-serif">50</text>
<text x="357.9" y="1653.5" font-size="40" text-anchor="middle" font-family="'Liberation Sans', sans-serif">100</text>
<text x="457.5" y="1653.5" font-size="40" text-anchor="middle" font-family="'Liberation Sans', sans-serif">150</text>
<text x="557.1" y="1653.5" font-size="40" text-anchor="middle" font-family="'Liberation Sans', sans-serif">200</text>
<text x="143.6" y="1599.5" font-size="40" text-anchor="end" font-family="'Liberation Sans', sans-serif">0</text>
<text x="143.6" y="1515.5" font-size="40" text-anchor="end" font-family="'Liberation Sans', sans-serif">20</text>
<text x="143.6" y="1431.5" font-size="40" text-anchor="end" font-family="'Liberation Sans', sans-serif">40</text>
<text x="143.6" y="1347.5" font-size="40" text-anchor="end" font-family="'Liberation Sans', sans-serif">60</text>
<text x="318" y="1705" font-size="40" font-family="'Liberation Sans', sans-serif"><tspan font-style="italic">T</tspan> (mK)</text>
<g transform="translate(66.6,1541) rotate(-90)" font-family="'Liberation Sans', sans-serif"><text x="0" y="0" font-size="30">&#956;</text><text x="17.5" y="16.4" font-size="21">0</text><text x="30.5" y="0" font-size="37" font-style="italic">H</text><text x="57.5" y="16.4" font-size="23">c2</text><text x="97.5" y="0" font-size="37">(mT)</text></g>
<text x="358" y="1390" font-size="34" font-family="'Liberation Sans', sans-serif">8uc</text>
<text x="321" y="1519" font-size="34" font-family="'Liberation Sans', sans-serif">15uc</text>
<text x="8" y="1294.5" font-size="50" font-family="'Liberation Sans', sans-serif">(d)</text>
<defs><clipPath id="cpE"><rect x="807.6" y="873.1" width="488.1" height="756.5"/></clipPath></defs>
<g clip-path="url(#cpE)"><rect x="838.2" y="1615.2" width="9.6" height="9.6" fill="#b3d235"/><rect x="852.1" y="1593.2" width="9.6" height="9.6" fill="#b3d235"/><rect x="866.9" y="1595.8" width="9.6" height="9.6" fill="#b3d235"/><rect x="880.7" y="1592.1" width="9.6" height="9.6" fill="#b3d235"/><rect x="894.6" y="1573.7" width="9.6" height="9.6" fill="#b3d235"/><rect x="907.5" y="1563.5" width="9.6" height="9.6" fill="#b3d235"/><rect x="921.4" y="1557" width="9.6" height="9.6" fill="#b3d235"/><rect x="935.2" y="1544.7" width="9.6" height="9.6" fill="#b3d235"/><rect x="950" y="1531.2" width="9.6" height="9.6" fill="#b3d235"/><rect x="962.9" y="1520.1" width="9.6" height="9.6" fill="#b3d235"/><rect x="976.7" y="1498" width="9.6" height="9.6" fill="#b3d235"/><rect x="989.7" y="1493.4" width="9.6" height="9.6" fill="#b3d235"/><rect x="1003.5" y="1478.6" width="9.6" height="9.6" fill="#b3d235"/><rect x="1018.3" y="1466.6" width="9.6" height="9.6" fill="#b3d235"/><rect x="1031.4" y="1459.2" width="9.6" height="9.6" fill="#b3d235"/><rect x="1044.9" y="1444.6" width="9.6" height="9.6" fill="#b3d235"/><rect x="1059.5" y="1434.2" width="9.6" height="9.6" fill="#b3d235"/><rect x="1074" y="1420.7" width="9.6" height="9.6" fill="#b3d235"/><rect x="1086.5" y="1410.4" width="9.6" height="9.6" fill="#b3d235"/><rect x="1101" y="1400" width="9.6" height="9.6" fill="#b3d235"/><rect x="1112.4" y="1388.5" width="9.6" height="9.6" fill="#b3d235"/><rect x="1128" y="1374" width="9.6" height="9.6" fill="#b3d235"/><rect x="1142.5" y="1363.6" width="9.6" height="9.6" fill="#b3d235"/><rect x="1154" y="1351.2" width="9.6" height="9.6" fill="#b3d235"/><rect x="1168.5" y="1337.7" width="9.6" height="9.6" fill="#b3d235"/><rect x="1182" y="1327.2" width="9.6" height="9.6" fill="#b3d235"/><rect x="1195.2" y="1307.2" width="9.6" height="9.6" fill="#b3d235"/><rect x="812.4" y="1618.9" width="9.6" height="9.6" fill="#3cb54a"/><rect x="825.4" y="1607.5" width="9.6" height="9.6" fill="#3cb54a"/><rect x="839.2" y="1601.9" width="9.6" height="9.6" fill="#3cb54a"/><rect x="852.1" y="1613.4" width="9.6" height="9.6" fill="#3cb54a"/><rect x="866.9" y="1577.4" width="9.6" height="9.6" fill="#3cb54a"/><rect x="880.7" y="1582.9" width="9.6" height="9.6" fill="#3cb54a"/><rect x="894.6" y="1578.3" width="9.6" height="9.6" fill="#3cb54a"/><rect x="907.5" y="1557" width="9.6" height="9.6" fill="#3cb54a"/><rect x="921.4" y="1563.5" width="9.6" height="9.6" fill="#3cb54a"/><rect x="935.2" y="1559.8" width="9.6" height="9.6" fill="#3cb54a"/><rect x="950" y="1542.8" width="9.6" height="9.6" fill="#3cb54a"/><rect x="962.2" y="1527.2" width="9.6" height="9.6" fill="#3cb54a"/><rect x="976.7" y="1513.3" width="9.6" height="9.6" fill="#3cb54a"/><rect x="989.7" y="1501.7" width="9.6" height="9.6" fill="#3cb54a"/><rect x="1003.5" y="1499.8" width="9.6" height="9.6" fill="#3cb54a"/><rect x="1018.3" y="1487.8" width="9.6" height="9.6" fill="#3cb54a"/><rect x="1032.5" y="1489.2" width="9.6" height="9.6" fill="#3cb54a"/><rect x="1044.9" y="1464.4" width="9.6" height="9.6" fill="#3cb54a"/><rect x="1059.5" y="1450.8" width="9.6" height="9.6" fill="#3cb54a"/><rect x="1074" y="1438.4" width="9.6" height="9.6" fill="#3cb54a"/><rect x="1086.5" y="1428" width="9.6" height="9.6" fill="#3cb54a"/><rect x="1101" y="1420.7" width="9.6" height="9.6" fill="#3cb54a"/><rect x="1112.4" y="1410.4" width="9.6" height="9.6" fill="#3cb54a"/><rect x="1127" y="1397.9" width="9.6" height="9.6" fill="#3cb54a"/><rect x="1134.2" y="1391.7" width="9.6" height="9.6" fill="#3cb54a"/><rect x="1142.5" y="1382.3" width="9.6" height="9.6" fill="#3cb54a"/><rect x="1155" y="1374" width="9.6" height="9.6" fill="#3cb54a"/><rect x="1168.5" y="1360.5" width="9.6" height="9.6" fill="#3cb54a"/><rect x="1181" y="1347" width="9.6" height="9.6" fill="#3cb54a"/><rect x="1194.5" y="1334.5" width="9.6" height="9.6" fill="#3cb54a"/><rect x="1205.9" y="1326.2" width="9.6" height="9.6" fill="#3cb54a"/><rect x="1112.4" y="1456" width="9.6" height="9.6" fill="#00a651"/><rect x="1127" y="1447.7" width="9.6" height="9.6" fill="#00a651"/><rect x="1141.5" y="1435.3" width="9.6" height="9.6" fill="#00a651"/><rect x="1155" y="1422.8" width="9.6" height="9.6" fill="#00a651"/><rect x="1168.5" y="1407.2" width="9.6" height="9.6" fill="#00a651"/><rect x="1181" y="1395.8" width="9.6" height="9.6" fill="#00a651"/><rect x="1193.4" y="1381.3" width="9.6" height="9.6" fill="#00a651"/><rect x="1201.7" y="1371.9" width="9.6" height="9.6" fill="#00a651"/><rect x="1210" y="1361.5" width="9.6" height="9.6" fill="#00a651"/><rect x="1219.4" y="1352.2" width="9.6" height="9.6" fill="#00a651"/><rect x="1226.7" y="1365.7" width="9.6" height="9.6" fill="#00a651"/><rect x="1227.7" y="1377.1" width="9.6" height="9.6" fill="#00a651"/><rect x="1232.9" y="1387.5" width="9.6" height="9.6" fill="#00a651"/><rect x="1235" y="1393.7" width="9.6" height="9.6" fill="#00a651"/><rect x="1228.7" y="1404.1" width="9.6" height="9.6" fill="#00a651"/><rect x="1222.5" y="1405.2" width="9.6" height="9.6" fill="#00a651"/><rect x="1212.1" y="1395.8" width="9.6" height="9.6" fill="#00a651"/><rect x="1203.8" y="1404.1" width="9.6" height="9.6" fill="#00a651"/><rect x="1193.4" y="1412.4" width="9.6" height="9.6" fill="#00a651"/><rect x="1210" y="1416.6" width="9.6" height="9.6" fill="#00a651"/><rect x="1203.8" y="1429" width="9.6" height="9.6" fill="#00a651"/><rect x="1212.1" y="1427" width="9.6" height="9.6" fill="#00a651"/><rect x="1181" y="1431.1" width="9.6" height="9.6" fill="#00a651"/><rect x="1191.3" y="1439.4" width="9.6" height="9.6" fill="#00a651"/><rect x="1197.6" y="1441.5" width="9.6" height="9.6" fill="#00a651"/><rect x="1168.5" y="1447.7" width="9.6" height="9.6" fill="#00a651"/><rect x="1181" y="1460.2" width="9.6" height="9.6" fill="#00a651"/><rect x="1154" y="1464.3" width="9.6" height="9.6" fill="#00a651"/><rect x="1168.5" y="1470.6" width="9.6" height="9.6" fill="#00a651"/><rect x="1141.5" y="1476.8" width="9.6" height="9.6" fill="#00a651"/><rect x="1133.2" y="1485.1" width="9.6" height="9.6" fill="#00a651"/><rect x="1127" y="1497.6" width="9.6" height="9.6" fill="#00a651"/><rect x="1112.4" y="1495.5" width="9.6" height="9.6" fill="#00a651"/><rect x="1101" y="1510" width="9.6" height="9.6" fill="#00a651"/><rect x="1114.5" y="1520.4" width="9.6" height="9.6" fill="#00a651"/><rect x="1086.5" y="1483" width="9.6" height="9.6" fill="#00a651"/><rect x="1074" y="1497.6" width="9.6" height="9.6" fill="#00a651"/><rect x="1044.9" y="1514.2" width="9.6" height="9.6" fill="#00a651"/><rect x="1059.5" y="1515.2" width="9.6" height="9.6" fill="#00a651"/><rect x="1086.5" y="1520.4" width="9.6" height="9.6" fill="#00a651"/><rect x="1086.5" y="1527.7" width="9.6" height="9.6" fill="#00a651"/><rect x="1044.9" y="1531.8" width="9.6" height="9.6" fill="#00a651"/><rect x="1031.4" y="1537" width="9.6" height="9.6" fill="#00a651"/><rect x="1113.5" y="1536" width="9.6" height="9.6" fill="#00a651"/><rect x="1128" y="1536" width="9.6" height="9.6" fill="#00a651"/><rect x="1132.2" y="1513.2" width="9.6" height="9.6" fill="#00a651"/><rect x="1142.5" y="1513.2" width="9.6" height="9.6" fill="#00a651"/><rect x="1154" y="1493.4" width="9.6" height="9.6" fill="#00a651"/><rect x="1101" y="1550.5" width="9.6" height="9.6" fill="#00a651"/><rect x="1044.9" y="1552.6" width="9.6" height="9.6" fill="#00a651"/><rect x="1044.9" y="1566.1" width="9.6" height="9.6" fill="#00a651"/><rect x="1059.5" y="1564" width="9.6" height="9.6" fill="#00a651"/><rect x="1074" y="1566.1" width="9.6" height="9.6" fill="#00a651"/><rect x="1086.5" y="1567.2" width="9.6" height="9.6" fill="#00a651"/><rect x="1059.5" y="1584.8" width="9.6" height="9.6" fill="#00a651"/><rect x="1074" y="1607.7" width="9.6" height="9.6" fill="#00a651"/><rect x="1033.5" y="1622.2" width="9.6" height="9.6" fill="#00a651"/><rect x="1222.5" y="1373" width="9.6" height="9.6" fill="#00a651"/><rect x="1224.6" y="1379.2" width="9.6" height="9.6" fill="#00a651"/><rect x="1220.4" y="1385.4" width="9.6" height="9.6" fill="#00a651"/><rect x="1230.8" y="1383.4" width="9.6" height="9.6" fill="#00a651"/><rect x="1239.1" y="1405.2" width="9.6" height="9.6" fill="#00a99d"/><rect x="1235" y="1414.5" width="9.6" height="9.6" fill="#00a99d"/><rect x="1232.9" y="1422.8" width="9.6" height="9.6" fill="#00a99d"/><rect x="1228.7" y="1432.2" width="9.6" height="9.6" fill="#00a99d"/><rect x="1219.4" y="1444.6" width="9.6" height="9.6" fill="#00a99d"/><rect x="1211.1" y="1452.9" width="9.6" height="9.6" fill="#00a99d"/><rect x="1202.8" y="1468.5" width="9.6" height="9.6" fill="#00a99d"/><rect x="1174.7" y="1500.7" width="9.6" height="9.6" fill="#00a99d"/><rect x="1179.9" y="1510" width="9.6" height="9.6" fill="#00a99d"/><rect x="1191.3" y="1496.5" width="9.6" height="9.6" fill="#00a99d"/><rect x="1151.9" y="1529.8" width="9.6" height="9.6" fill="#00a99d"/><rect x="1160.2" y="1529.8" width="9.6" height="9.6" fill="#00a99d"/><rect x="1168.5" y="1531.8" width="9.6" height="9.6" fill="#00a99d"/><rect x="1146.7" y="1543.3" width="9.6" height="9.6" fill="#00a99d"/><rect x="1134.2" y="1573.4" width="9.6" height="9.6" fill="#00a99d"/><rect x="1044.9" y="1602.5" width="9.6" height="9.6" fill="#00a99d"/><rect x="1085.4" y="1596.2" width="9.6" height="9.6" fill="#00a99d"/><rect x="1102" y="1606.6" width="9.6" height="9.6" fill="#00a99d"/><rect x="1112.4" y="1596.2" width="9.6" height="9.6" fill="#00a99d"/><rect x="1131.1" y="1604.5" width="9.6" height="9.6" fill="#00a99d"/><rect x="1243.3" y="1462.3" width="9.6" height="9.6" fill="#22b8e6"/><rect x="1241.2" y="1470.6" width="9.6" height="9.6" fill="#22b8e6"/><rect x="1242.2" y="1478.9" width="9.6" height="9.6" fill="#22b8e6"/><rect x="1242.2" y="1489.3" width="9.6" height="9.6" fill="#22b8e6"/><rect x="1228.7" y="1487.2" width="9.6" height="9.6" fill="#22b8e6"/><rect x="1230.8" y="1516.3" width="9.6" height="9.6" fill="#22b8e6"/><rect x="1216.3" y="1520.4" width="9.6" height="9.6" fill="#22b8e6"/><rect x="1204.8" y="1525.6" width="9.6" height="9.6" fill="#22b8e6"/><rect x="1217.3" y="1546.4" width="9.6" height="9.6" fill="#22b8e6"/><rect x="1193.4" y="1550.5" width="9.6" height="9.6" fill="#22b8e6"/><rect x="1183" y="1562" width="9.6" height="9.6" fill="#22b8e6"/><rect x="1201.7" y="1579.6" width="9.6" height="9.6" fill="#22b8e6"/><rect x="1159.2" y="1582.7" width="9.6" height="9.6" fill="#22b8e6"/><rect x="1148.8" y="1609.7" width="9.6" height="9.6" fill="#22b8e6"/><rect x="1137.3" y="1611.8" width="9.6" height="9.6" fill="#22b8e6"/><rect x="1185.1" y="1624.3" width="9.6" height="9.6" fill="#22b8e6"/><rect x="1250.5" y="1487.2" width="9.6" height="9.6" fill="#1c8ad6"/><rect x="1249.5" y="1497.6" width="9.6" height="9.6" fill="#1c8ad6"/><rect x="1248.5" y="1505.9" width="9.6" height="9.6" fill="#1c8ad6"/><rect x="1248.5" y="1514.2" width="9.6" height="9.6" fill="#1c8ad6"/><rect x="1248.5" y="1524.6" width="9.6" height="9.6" fill="#1c8ad6"/><rect x="1235" y="1547.4" width="9.6" height="9.6" fill="#1c8ad6"/><rect x="1216.3" y="1592.1" width="9.6" height="9.6" fill="#1c8ad6"/><rect x="1246.4" y="1566.1" width="9.6" height="9.6" fill="#3a4ea5"/><rect x="1246.4" y="1573.4" width="9.6" height="9.6" fill="#3a4ea5"/><rect x="1245.3" y="1579.6" width="9.6" height="9.6" fill="#3a4ea5"/><rect x="1248.5" y="1586.9" width="9.6" height="9.6" fill="#3a4ea5"/><rect x="1248.5" y="1595.2" width="9.6" height="9.6" fill="#3a4ea5"/><rect x="1248.5" y="1603.5" width="9.6" height="9.6" fill="#3a4ea5"/><rect x="1246.4" y="1613.9" width="9.6" height="9.6" fill="#3a4ea5"/><rect x="1201.7" y="1598.3" width="9.6" height="9.6" fill="#3a4ea5"/><rect x="1217.3" y="1599.3" width="9.6" height="9.6" fill="#3a4ea5"/><rect x="1230.8" y="1622.2" width="9.6" height="9.6" fill="#3a4ea5"/><rect x="1248.5" y="1623.2" width="9.6" height="9.6" fill="#3a4ea5"/><rect x="935.2" y="1619.8" width="9.6" height="9.6" fill="#00a651"/><rect x="976.7" y="1559.8" width="9.6" height="9.6" fill="#00a651"/><rect x="976.7" y="1585.2" width="9.6" height="9.6" fill="#00a651"/><rect x="976.7" y="1593.2" width="9.6" height="9.6" fill="#00a651"/><rect x="989.7" y="1579.2" width="9.6" height="9.6" fill="#00a651"/><rect x="1003.5" y="1581" width="9.6" height="9.6" fill="#00a651"/><rect x="1018.3" y="1563.5" width="9.6" height="9.6" fill="#00a651"/><rect x="1032.1" y="1536.7" width="9.6" height="9.6" fill="#00a651"/><rect x="1018.3" y="1615.2" width="9.6" height="9.6" fill="#00a651"/><rect x="989.7" y="1620.7" width="9.6" height="9.6" fill="#00a651"/><rect x="976.7" y="1622.6" width="9.6" height="9.6" fill="#00a651"/><rect x="1003.5" y="1623.5" width="9.6" height="9.6" fill="#00a651"/><rect x="1032.1" y="1622.6" width="9.6" height="9.6" fill="#00a651"/><rect x="935.2" y="1623.2" width="9.6" height="9.6" fill="#00a651"/><rect x="1245.9" y="933.9" width="9.6" height="9.6" fill="#22b8e6"/><rect x="1230.6" y="954.7" width="9.6" height="9.6" fill="#00a651"/><rect x="1219.6" y="972.7" width="9.6" height="9.6" fill="#00a651"/><rect x="1225.1" y="978.2" width="9.6" height="9.6" fill="#00a651"/><rect x="1232" y="985.1" width="9.6" height="9.6" fill="#00a651"/><rect x="1237.6" y="983.7" width="9.6" height="9.6" fill="#00a651"/><rect x="1221" y="992" width="9.6" height="9.6" fill="#00a651"/><rect x="1226.5" y="997.6" width="9.6" height="9.6" fill="#00a651"/><rect x="1218.2" y="998.9" width="9.6" height="9.6" fill="#00a651"/><rect x="1212.7" y="983.7" width="9.6" height="9.6" fill="#00a651"/><rect x="1212.7" y="992" width="9.6" height="9.6" fill="#00a651"/><rect x="1212.7" y="1003.1" width="9.6" height="9.6" fill="#00a651"/><rect x="1221" y="1047.3" width="9.6" height="9.6" fill="#00a651"/><rect x="1226.5" y="1046" width="9.6" height="9.6" fill="#00a651"/><rect x="1232" y="1043.9" width="9.6" height="9.6" fill="#00a651"/><rect x="1236.2" y="1042.5" width="9.6" height="9.6" fill="#00a651"/><rect x="1218.2" y="1054.3" width="9.6" height="9.6" fill="#00a651"/><rect x="1223.7" y="1052.9" width="9.6" height="9.6" fill="#00a651"/><rect x="1229.3" y="1050.1" width="9.6" height="9.6" fill="#00a651"/><rect x="1216.8" y="1058.4" width="9.6" height="9.6" fill="#00a651"/><rect x="1241.7" y="960.2" width="9.6" height="9.6" fill="#00a99d"/><rect x="1241.7" y="969.9" width="9.6" height="9.6" fill="#00a99d"/><rect x="1243.1" y="979.6" width="9.6" height="9.6" fill="#00a99d"/><rect x="1208.5" y="967.1" width="9.6" height="9.6" fill="#b3d235"/><rect x="1205.7" y="978.2" width="9.6" height="9.6" fill="#b3d235"/><rect x="1205" y="985.1" width="9.6" height="9.6" fill="#b3d235"/><rect x="1204.4" y="992" width="9.6" height="9.6" fill="#b3d235"/><rect x="1203.7" y="998.9" width="9.6" height="9.6" fill="#b3d235"/><rect x="1202.3" y="1005.9" width="9.6" height="9.6" fill="#b3d235"/><rect x="1201.6" y="1014.1" width="9.6" height="9.6" fill="#b3d235"/><rect x="1201.6" y="1041.8" width="9.6" height="9.6" fill="#b3d235"/><rect x="1201.6" y="1058.4" width="9.6" height="9.6" fill="#b3d235"/><rect x="1208.5" y="963" width="9.6" height="9.6" fill="#3cb54a"/><rect x="1211.3" y="992" width="9.6" height="9.6" fill="#3cb54a"/><rect x="1209.9" y="1000.3" width="9.6" height="9.6" fill="#3cb54a"/><rect x="1207.1" y="1058.4" width="9.6" height="9.6" fill="#3cb54a"/><rect x="1250" y="1004.5" width="9.6" height="9.6" fill="#1c8ad6"/><rect x="1250" y="1010" width="9.6" height="9.6" fill="#1c8ad6"/><rect x="1250" y="1016.2" width="9.6" height="9.6" fill="#3a4ea5"/><rect x="1178.1" y="1012.8" width="9.6" height="9.6" fill="#fff200"/><rect x="1180.8" y="1019.7" width="9.6" height="9.6" fill="#fff200"/><rect x="1179.5" y="1028" width="9.6" height="9.6" fill="#fff200"/><rect x="1178.1" y="1036.3" width="9.6" height="9.6" fill="#fff200"/><rect x="1179.5" y="1044.6" width="9.6" height="9.6" fill="#fff200"/><rect x="1180.8" y="1051.5" width="9.6" height="9.6" fill="#fff200"/><rect x="1190.5" y="1005.9" width="9.6" height="9.6" fill="#fff200"/><rect x="1189.1" y="1014.1" width="9.6" height="9.6" fill="#fff200"/><rect x="1186.4" y="1022.4" width="9.6" height="9.6" fill="#fff200"/><rect x="1183.6" y="1030.7" width="9.6" height="9.6" fill="#fff200"/><rect x="1180.8" y="1128.9" width="9.6" height="9.6" fill="#fff200"/><rect x="1177.7" y="1125.2" width="9.6" height="9.6" fill="#fff200"/><rect x="1177.7" y="1135.2" width="9.6" height="9.6" fill="#fff200"/><rect x="1177.7" y="1145.2" width="9.6" height="9.6" fill="#fff200"/><rect x="1177.7" y="1155.2" width="9.6" height="9.6" fill="#fff200"/><rect x="1177.7" y="1171.2" width="9.6" height="9.6" fill="#fff200"/><rect x="1177.7" y="1186.2" width="9.6" height="9.6" fill="#fff200"/><rect x="1249.2" y="1157.2" width="9.6" height="9.6" fill="#3a4ea5"/><rect x="805.8" y="1551.2" width="9.6" height="9.6" fill="#fff200"/><rect x="841" y="1455.5" width="9.6" height="9.6" fill="#fff200"/><rect x="805.8" y="1583.2" width="9.6" height="9.6" fill="#fff200"/><rect x="819" y="1565" width="9.6" height="9.6" fill="#fff200"/><rect x="832.2" y="1542.2" width="9.6" height="9.6" fill="#fff200"/><rect x="845.4" y="1536.6" width="9.6" height="9.6" fill="#fff200"/><rect x="858.6" y="1526.5" width="9.6" height="9.6" fill="#fff200"/><rect x="871.8" y="1509.4" width="9.6" height="9.6" fill="#fff200"/><rect x="885" y="1501.3" width="9.6" height="9.6" fill="#fff200"/><rect x="898.2" y="1485.2" width="9.6" height="9.6" fill="#fff200"/><rect x="911.4" y="1477.1" width="9.6" height="9.6" fill="#fff200"/><rect x="924.6" y="1469" width="9.6" height="9.6" fill="#fff200"/><rect x="937.8" y="1458.5" width="9.6" height="9.6" fill="#fff200"/><rect x="951" y="1448.9" width="9.6" height="9.6" fill="#fff200"/><rect x="964.2" y="1435.6" width="9.6" height="9.6" fill="#fff200"/><rect x="977.4" y="1422.5" width="9.6" height="9.6" fill="#fff200"/><rect x="990.6" y="1413.6" width="9.6" height="9.6" fill="#fff200"/><rect x="1003.8" y="1407.7" width="9.6" height="9.6" fill="#fff200"/><rect x="1017" y="1396.7" width="9.6" height="9.6" fill="#fff200"/><rect x="1030.2" y="1385.8" width="9.6" height="9.6" fill="#fff200"/><rect x="1041.2" y="1376.6" width="9.6" height="9.6" fill="#fff200"/><rect x="1047.2" y="1368" width="9.6" height="9.6" fill="#fff200"/><rect x="1050.5" y="1367.6" width="9.6" height="9.6" fill="#fff200"/><rect x="1053" y="1363.8" width="9.6" height="9.6" fill="#fff200"/><rect x="1055.5" y="1363.8" width="9.6" height="9.6" fill="#fff200"/><rect x="1058" y="1361.5" width="9.6" height="9.6" fill="#fff200"/><rect x="1060.5" y="1358.8" width="9.6" height="9.6" fill="#fff200"/><rect x="1063" y="1358.7" width="9.6" height="9.6" fill="#fff200"/><rect x="1065.5" y="1355.3" width="9.6" height="9.6" fill="#fff200"/><rect x="1068" y="1355.1" width="9.6" height="9.6" fill="#fff200"/><rect x="1070.5" y="1352.1" width="9.6" height="9.6" fill="#fff200"/><rect x="1073" y="1350.2" width="9.6" height="9.6" fill="#fff200"/><rect x="1075.5" y="1349.4" width="9.6" height="9.6" fill="#fff200"/><rect x="1078" y="1348.7" width="9.6" height="9.6" fill="#fff200"/><rect x="1080.5" y="1344.1" width="9.6" height="9.6" fill="#fff200"/><rect x="1083" y="1342.4" width="9.6" height="9.6" fill="#fff200"/><rect x="1085.5" y="1341.8" width="9.6" height="9.6" fill="#fff200"/><rect x="1088" y="1340.8" width="9.6" height="9.6" fill="#fff200"/><rect x="1090.5" y="1337.4" width="9.6" height="9.6" fill="#fff200"/><rect x="1093" y="1334.7" width="9.6" height="9.6" fill="#fff200"/><rect x="1095.5" y="1334.7" width="9.6" height="9.6" fill="#fff200"/><rect x="1098" y="1329.2" width="9.6" height="9.6" fill="#fff200"/><rect x="1100.5" y="1330.1" width="9.6" height="9.6" fill="#fff200"/><rect x="1103" y="1326" width="9.6" height="9.6" fill="#fff200"/><rect x="1105.5" y="1323.3" width="9.6" height="9.6" fill="#fff200"/><rect x="1108" y="1321" width="9.6" height="9.6" fill="#fff200"/><rect x="1110.5" y="1319.2" width="9.6" height="9.6" fill="#fff200"/><rect x="1113" y="1318.6" width="9.6" height="9.6" fill="#fff200"/><rect x="1115.5" y="1313.9" width="9.6" height="9.6" fill="#fff200"/><rect x="1118" y="1314.1" width="9.6" height="9.6" fill="#fff200"/><rect x="1120.5" y="1313.1" width="9.6" height="9.6" fill="#fff200"/><rect x="1123" y="1310.8" width="9.6" height="9.6" fill="#fff200"/><rect x="1125.5" y="1310.2" width="9.6" height="9.6" fill="#fff200"/><rect x="1128" y="1307" width="9.6" height="9.6" fill="#fff200"/><rect x="1130.5" y="1304.9" width="9.6" height="9.6" fill="#fff200"/><rect x="1133" y="1303.3" width="9.6" height="9.6" fill="#fff200"/><rect x="1135.5" y="1302.9" width="9.6" height="9.6" fill="#fff200"/><rect x="1138" y="1300" width="9.6" height="9.6" fill="#fff200"/><rect x="1140.5" y="1297.5" width="9.6" height="9.6" fill="#fff200"/><rect x="1143" y="1296.4" width="9.6" height="9.6" fill="#fff200"/><rect x="1145.5" y="1293.8" width="9.6" height="9.6" fill="#fff200"/><rect x="1148" y="1291.2" width="9.6" height="9.6" fill="#fff200"/><rect x="1150.5" y="1290.9" width="9.6" height="9.6" fill="#fff200"/><rect x="1153" y="1288.4" width="9.6" height="9.6" fill="#fff200"/><rect x="1155.5" y="1284.7" width="9.6" height="9.6" fill="#fff200"/><rect x="1158" y="1283.8" width="9.6" height="9.6" fill="#fff200"/><rect x="1160.5" y="1281.6" width="9.6" height="9.6" fill="#fff200"/><rect x="1163" y="1280.7" width="9.6" height="9.6" fill="#fff200"/><rect x="1165.5" y="1277.2" width="9.6" height="9.6" fill="#fff200"/><rect x="1168" y="1272.5" width="9.6" height="9.6" fill="#fff200"/><rect x="1170.5" y="1271.8" width="9.6" height="9.6" fill="#fff200"/><rect x="1171.7" y="1267" width="9.6" height="9.6" fill="#fff200"/><rect x="1173" y="1262.5" width="9.6" height="9.6" fill="#fff200"/><rect x="805.8" y="1503.2" width="9.6" height="9.6" fill="#fff200"/><rect x="819" y="1490.8" width="9.6" height="9.6" fill="#fff200"/><rect x="832.2" y="1480.7" width="9.6" height="9.6" fill="#fff200"/><rect x="845.4" y="1468.3" width="9.6" height="9.6" fill="#fff200"/><rect x="858.6" y="1454.7" width="9.6" height="9.6" fill="#fff200"/><rect x="871.8" y="1443.6" width="9.6" height="9.6" fill="#fff200"/><rect x="885" y="1431.2" width="9.6" height="9.6" fill="#fff200"/><rect x="898.2" y="1420.2" width="9.6" height="9.6" fill="#fff200"/><rect x="911.4" y="1406.9" width="9.6" height="9.6" fill="#fff200"/><rect x="924.6" y="1397.2" width="9.6" height="9.6" fill="#fff200"/><rect x="937.8" y="1387.3" width="9.6" height="9.6" fill="#fff200"/><rect x="949.8" y="1375.3" width="9.6" height="9.6" fill="#fff200"/><rect x="956.4" y="1370.4" width="9.6" height="9.6" fill="#fff200"/><rect x="960.1" y="1365" width="9.6" height="9.6" fill="#fff200"/><rect x="962.6" y="1364" width="9.6" height="9.6" fill="#fff200"/><rect x="965.1" y="1360.3" width="9.6" height="9.6" fill="#fff200"/><rect x="967.6" y="1360.5" width="9.6" height="9.6" fill="#fff200"/><rect x="970.1" y="1358.7" width="9.6" height="9.6" fill="#fff200"/><rect x="972.6" y="1356" width="9.6" height="9.6" fill="#fff200"/><rect x="975.1" y="1354.7" width="9.6" height="9.6" fill="#fff200"/><rect x="977.6" y="1350.1" width="9.6" height="9.6" fill="#fff200"/><rect x="980.1" y="1349" width="9.6" height="9.6" fill="#fff200"/><rect x="982.6" y="1346.2" width="9.6" height="9.6" fill="#fff200"/><rect x="985.1" y="1343.6" width="9.6" height="9.6" fill="#fff200"/><rect x="987.6" y="1341.1" width="9.6" height="9.6" fill="#fff200"/><rect x="990.1" y="1340.4" width="9.6" height="9.6" fill="#fff200"/><rect x="992.6" y="1338.6" width="9.6" height="9.6" fill="#fff200"/><rect x="995.1" y="1334.9" width="9.6" height="9.6" fill="#fff200"/><rect x="997.6" y="1333.5" width="9.6" height="9.6" fill="#fff200"/><rect x="1000.1" y="1329.2" width="9.6" height="9.6" fill="#fff200"/><rect x="1002.6" y="1329.4" width="9.6" height="9.6" fill="#fff200"/><rect x="1005.1" y="1327.2" width="9.6" height="9.6" fill="#fff200"/><rect x="1007.6" y="1326.3" width="9.6" height="9.6" fill="#fff200"/><rect x="1010.1" y="1323.5" width="9.6" height="9.6" fill="#fff200"/><rect x="1012.6" y="1319" width="9.6" height="9.6" fill="#fff200"/><rect x="1015.1" y="1316.9" width="9.6" height="9.6" fill="#fff200"/><rect x="1017.6" y="1315.4" width="9.6" height="9.6" fill="#fff200"/><rect x="1020.1" y="1310.6" width="9.6" height="9.6" fill="#fff200"/><rect x="1022.6" y="1309.9" width="9.6" height="9.6" fill="#fff200"/><rect x="1025.1" y="1306.8" width="9.6" height="9.6" fill="#fff200"/><rect x="1027.6" y="1304.5" width="9.6" height="9.6" fill="#fff200"/><rect x="1030.1" y="1302.2" width="9.6" height="9.6" fill="#fff200"/><rect x="1032.6" y="1302.7" width="9.6" height="9.6" fill="#fff200"/><rect x="1035.1" y="1298.3" width="9.6" height="9.6" fill="#fff200"/><rect x="1037.6" y="1296.6" width="9.6" height="9.6" fill="#fff200"/><rect x="1040.1" y="1295.1" width="9.6" height="9.6" fill="#fff200"/><rect x="1042.6" y="1294.7" width="9.6" height="9.6" fill="#fff200"/><rect x="1045.1" y="1289.8" width="9.6" height="9.6" fill="#fff200"/><rect x="1047.6" y="1289" width="9.6" height="9.6" fill="#fff200"/><rect x="1050.1" y="1287.3" width="9.6" height="9.6" fill="#fff200"/><rect x="1052.6" y="1286.4" width="9.6" height="9.6" fill="#fff200"/><rect x="1055.1" y="1284.1" width="9.6" height="9.6" fill="#fff200"/><rect x="1057.6" y="1282.2" width="9.6" height="9.6" fill="#fff200"/><rect x="1060.1" y="1278" width="9.6" height="9.6" fill="#fff200"/><rect x="1062.6" y="1276.4" width="9.6" height="9.6" fill="#fff200"/><rect x="1065.1" y="1274.1" width="9.6" height="9.6" fill="#fff200"/><rect x="1067.6" y="1273.9" width="9.6" height="9.6" fill="#fff200"/><rect x="1070.1" y="1272.1" width="9.6" height="9.6" fill="#fff200"/><rect x="1072.6" y="1267.1" width="9.6" height="9.6" fill="#fff200"/><rect x="1075.1" y="1265.1" width="9.6" height="9.6" fill="#fff200"/><rect x="1077.6" y="1263.2" width="9.6" height="9.6" fill="#fff200"/><rect x="1080.1" y="1261.2" width="9.6" height="9.6" fill="#fff200"/><rect x="1082.6" y="1259.8" width="9.6" height="9.6" fill="#fff200"/><rect x="1085.1" y="1257.6" width="9.6" height="9.6" fill="#fff200"/><rect x="1087.6" y="1254" width="9.6" height="9.6" fill="#fff200"/><rect x="1090.1" y="1250.5" width="9.6" height="9.6" fill="#fff200"/><rect x="1092.6" y="1249.5" width="9.6" height="9.6" fill="#fff200"/><rect x="1095.1" y="1245.6" width="9.6" height="9.6" fill="#fff200"/><rect x="1097.6" y="1242.1" width="9.6" height="9.6" fill="#fff200"/><rect x="1100.1" y="1239.4" width="9.6" height="9.6" fill="#fff200"/><rect x="1102.6" y="1234.2" width="9.6" height="9.6" fill="#fff200"/><rect x="1105.1" y="1229.4" width="9.6" height="9.6" fill="#fff200"/><rect x="1107.6" y="1225.6" width="9.6" height="9.6" fill="#fff200"/><rect x="1110.1" y="1221.7" width="9.6" height="9.6" fill="#fff200"/><rect x="1112.6" y="1215.7" width="9.6" height="9.6" fill="#fff200"/><rect x="1115.1" y="1215.5" width="9.6" height="9.6" fill="#fff200"/><rect x="1117.6" y="1211.7" width="9.6" height="9.6" fill="#fff200"/><rect x="1120.1" y="1208.7" width="9.6" height="9.6" fill="#fff200"/><rect x="1122.6" y="1205.1" width="9.6" height="9.6" fill="#fff200"/><rect x="1125.1" y="1200.3" width="9.6" height="9.6" fill="#fff200"/><rect x="1127.6" y="1197" width="9.6" height="9.6" fill="#fff200"/><rect x="1130.1" y="1192.3" width="9.6" height="9.6" fill="#fff200"/><rect x="1132.6" y="1190" width="9.6" height="9.6" fill="#fff200"/><rect x="1135.1" y="1183.8" width="9.6" height="9.6" fill="#fff200"/><rect x="1137.6" y="1179.7" width="9.6" height="9.6" fill="#fff200"/><rect x="1140.1" y="1176" width="9.6" height="9.6" fill="#fff200"/><rect x="1141.3" y="1173.7" width="9.6" height="9.6" fill="#fff200"/><rect x="1142.6" y="1169.1" width="9.6" height="9.6" fill="#fff200"/><rect x="1143.8" y="1166" width="9.6" height="9.6" fill="#fff200"/><rect x="1145.1" y="1161" width="9.6" height="9.6" fill="#fff200"/><rect x="1145.9" y="1156.2" width="9.6" height="9.6" fill="#fff200"/><rect x="1146.8" y="1150.8" width="9.6" height="9.6" fill="#fff200"/><rect x="1147.6" y="1143.8" width="9.6" height="9.6" fill="#fff200"/><rect x="1148.4" y="1140" width="9.6" height="9.6" fill="#fff200"/><rect x="1149.3" y="1134.5" width="9.6" height="9.6" fill="#fff200"/><rect x="1150.1" y="1127.2" width="9.6" height="9.6" fill="#fff200"/><rect x="1150.9" y="1123.5" width="9.6" height="9.6" fill="#fff200"/><rect x="1151.8" y="1118" width="9.6" height="9.6" fill="#fff200"/><rect x="1152.6" y="1111.2" width="9.6" height="9.6" fill="#fff200"/><rect x="1153.4" y="1107" width="9.6" height="9.6" fill="#fff200"/><rect x="1154.3" y="1101.5" width="9.6" height="9.6" fill="#fff200"/><rect x="1155.1" y="1094.5" width="9.6" height="9.6" fill="#fff200"/><rect x="1156.3" y="1090.2" width="9.6" height="9.6" fill="#fff200"/><rect x="1157.6" y="1084" width="9.6" height="9.6" fill="#fff200"/><rect x="1158.8" y="1078.9" width="9.6" height="9.6" fill="#fff200"/><rect x="1160.1" y="1071.6" width="9.6" height="9.6" fill="#fff200"/><rect x="1161.3" y="1067.7" width="9.6" height="9.6" fill="#fff200"/><rect x="1162.6" y="1063.4" width="9.6" height="9.6" fill="#fff200"/><rect x="1163.8" y="1056.5" width="9.6" height="9.6" fill="#fff200"/><rect x="1165.1" y="1051.3" width="9.6" height="9.6" fill="#fff200"/><rect x="1166.3" y="1045.2" width="9.6" height="9.6" fill="#fff200"/><rect x="1167.6" y="1038.4" width="9.6" height="9.6" fill="#fff200"/><rect x="1168.8" y="1034" width="9.6" height="9.6" fill="#fff200"/><rect x="1170.1" y="1027.5" width="9.6" height="9.6" fill="#fff200"/><rect x="1171.3" y="1022.8" width="9.6" height="9.6" fill="#fff200"/><rect x="1172.6" y="1016.7" width="9.6" height="9.6" fill="#fff200"/><rect x="1173.8" y="1012.2" width="9.6" height="9.6" fill="#fff200"/><rect x="1175.1" y="1006.7" width="9.6" height="9.6" fill="#fff200"/><rect x="1176.3" y="1002.6" width="9.6" height="9.6" fill="#fff200"/><rect x="1177.6" y="996.7" width="9.6" height="9.6" fill="#fff200"/><rect x="1178.8" y="993.4" width="9.6" height="9.6" fill="#fff200"/><rect x="1180.1" y="990.1" width="9.6" height="9.6" fill="#fff200"/><rect x="1181.3" y="984.3" width="9.6" height="9.6" fill="#fff200"/><rect x="1182.6" y="981.5" width="9.6" height="9.6" fill="#fff200"/><rect x="1183.8" y="975.2" width="9.6" height="9.6" fill="#fff200"/><rect x="1185.1" y="970.5" width="9.6" height="9.6" fill="#fff200"/><rect x="805.8" y="1425.2" width="9.6" height="9.6" fill="#faa61a"/><rect x="819" y="1412" width="9.6" height="9.6" fill="#faa61a"/><rect x="832.2" y="1402.5" width="9.6" height="9.6" fill="#faa61a"/><rect x="845.4" y="1393.6" width="9.6" height="9.6" fill="#faa61a"/><rect x="858.6" y="1382.3" width="9.6" height="9.6" fill="#faa61a"/><rect x="871.8" y="1370.9" width="9.6" height="9.6" fill="#faa61a"/><rect x="885" y="1360.7" width="9.6" height="9.6" fill="#faa61a"/><rect x="898.2" y="1349.5" width="9.6" height="9.6" fill="#faa61a"/><rect x="911.4" y="1338.1" width="9.6" height="9.6" fill="#faa61a"/><rect x="924.6" y="1327.9" width="9.6" height="9.6" fill="#faa61a"/><rect x="937.8" y="1318.2" width="9.6" height="9.6" fill="#faa61a"/><rect x="951" y="1306.5" width="9.6" height="9.6" fill="#faa61a"/><rect x="964.2" y="1295.9" width="9.6" height="9.6" fill="#faa61a"/><rect x="977.4" y="1286.9" width="9.6" height="9.6" fill="#faa61a"/><rect x="990.6" y="1273.1" width="9.6" height="9.6" fill="#faa61a"/><rect x="1003.8" y="1262.6" width="9.6" height="9.6" fill="#faa61a"/><rect x="1017" y="1250.5" width="9.6" height="9.6" fill="#faa61a"/><rect x="1030.2" y="1240" width="9.6" height="9.6" fill="#faa61a"/><rect x="1043.4" y="1228.5" width="9.6" height="9.6" fill="#faa61a"/><rect x="1056.6" y="1213.6" width="9.6" height="9.6" fill="#faa61a"/><rect x="1069.8" y="1199" width="9.6" height="9.6" fill="#faa61a"/><rect x="1083" y="1185.4" width="9.6" height="9.6" fill="#faa61a"/><rect x="1096.2" y="1171.5" width="9.6" height="9.6" fill="#faa61a"/><rect x="1098.8" y="1166.9" width="9.6" height="9.6" fill="#faa61a"/><rect x="1101.5" y="1162.4" width="9.6" height="9.6" fill="#faa61a"/><rect x="1104.1" y="1157.8" width="9.6" height="9.6" fill="#faa61a"/><rect x="1106.7" y="1153.2" width="9.6" height="9.6" fill="#faa61a"/><rect x="1108.6" y="1149.1" width="9.6" height="9.6" fill="#faa61a"/><rect x="1110.6" y="1144.9" width="9.6" height="9.6" fill="#faa61a"/><rect x="1112.5" y="1139.3" width="9.6" height="9.6" fill="#faa61a"/><rect x="1114.1" y="1137.3" width="9.6" height="9.6" fill="#faa61a"/><rect x="1115.7" y="1132.5" width="9.6" height="9.6" fill="#faa61a"/><rect x="1118.2" y="1127.9" width="9.6" height="9.6" fill="#faa61a"/><rect x="1120.7" y="1122.2" width="9.6" height="9.6" fill="#faa61a"/><rect x="1123.2" y="1118.8" width="9.6" height="9.6" fill="#faa61a"/><rect x="1125.7" y="1111" width="9.6" height="9.6" fill="#faa61a"/><rect x="1128.2" y="1105.1" width="9.6" height="9.6" fill="#faa61a"/><rect x="1130.7" y="1103" width="9.6" height="9.6" fill="#faa61a"/><rect x="1133.2" y="1095.8" width="9.6" height="9.6" fill="#faa61a"/><rect x="1135.7" y="1088.6" width="9.6" height="9.6" fill="#faa61a"/><rect x="1138.2" y="1084.3" width="9.6" height="9.6" fill="#faa61a"/><rect x="1140.7" y="1076.6" width="9.6" height="9.6" fill="#faa61a"/><rect x="1143.2" y="1072.6" width="9.6" height="9.6" fill="#faa61a"/><rect x="1145.7" y="1068.5" width="9.6" height="9.6" fill="#faa61a"/><rect x="1148.2" y="1062.3" width="9.6" height="9.6" fill="#faa61a"/><rect x="1150.7" y="1055.9" width="9.6" height="9.6" fill="#faa61a"/><rect x="1153.2" y="1048.5" width="9.6" height="9.6" fill="#faa61a"/><rect x="1155.7" y="1043.1" width="9.6" height="9.6" fill="#faa61a"/><rect x="1158.2" y="1036.6" width="9.6" height="9.6" fill="#faa61a"/><rect x="1159.4" y="1034.7" width="9.6" height="9.6" fill="#faa61a"/><rect x="1160.7" y="1032.5" width="9.6" height="9.6" fill="#faa61a"/><rect x="1161.9" y="1027.9" width="9.6" height="9.6" fill="#faa61a"/><rect x="1163.2" y="1024.4" width="9.6" height="9.6" fill="#faa61a"/><rect x="1164.4" y="1020.6" width="9.6" height="9.6" fill="#faa61a"/><rect x="1165.7" y="1018" width="9.6" height="9.6" fill="#faa61a"/><rect x="1166.9" y="1013.4" width="9.6" height="9.6" fill="#faa61a"/><rect x="1168.2" y="1009.1" width="9.6" height="9.6" fill="#faa61a"/><rect x="1169.4" y="1006.1" width="9.6" height="9.6" fill="#faa61a"/><rect x="1170.7" y="1001.5" width="9.6" height="9.6" fill="#faa61a"/><rect x="1171.9" y="998.8" width="9.6" height="9.6" fill="#faa61a"/><rect x="1173.2" y="996.3" width="9.6" height="9.6" fill="#faa61a"/><rect x="1174.4" y="991.6" width="9.6" height="9.6" fill="#faa61a"/><rect x="1175.7" y="989.7" width="9.6" height="9.6" fill="#faa61a"/><rect x="1176.9" y="984.3" width="9.6" height="9.6" fill="#faa61a"/><rect x="1178.2" y="981.9" width="9.6" height="9.6" fill="#faa61a"/><rect x="1179.4" y="977" width="9.6" height="9.6" fill="#faa61a"/><rect x="1180.7" y="974.5" width="9.6" height="9.6" fill="#faa61a"/><rect x="1181.9" y="969.8" width="9.6" height="9.6" fill="#faa61a"/><rect x="1183.2" y="967.3" width="9.6" height="9.6" fill="#faa61a"/><rect x="805.8" y="1375.2" width="9.6" height="9.6" fill="#f7901e"/><rect x="819" y="1362.2" width="9.6" height="9.6" fill="#f7901e"/><rect x="832.2" y="1351" width="9.6" height="9.6" fill="#f7901e"/><rect x="845.4" y="1340.6" width="9.6" height="9.6" fill="#f7901e"/><rect x="858.6" y="1330.8" width="9.6" height="9.6" fill="#f7901e"/><rect x="871.8" y="1320" width="9.6" height="9.6" fill="#f7901e"/><rect x="885" y="1308.8" width="9.6" height="9.6" fill="#f7901e"/><rect x="898.2" y="1298.2" width="9.6" height="9.6" fill="#f7901e"/><rect x="911.4" y="1288.6" width="9.6" height="9.6" fill="#f7901e"/><rect x="924.6" y="1276.3" width="9.6" height="9.6" fill="#f7901e"/><rect x="937.8" y="1267.2" width="9.6" height="9.6" fill="#f7901e"/><rect x="951" y="1256.5" width="9.6" height="9.6" fill="#f7901e"/><rect x="964.2" y="1245.5" width="9.6" height="9.6" fill="#f7901e"/><rect x="977.4" y="1234.2" width="9.6" height="9.6" fill="#f7901e"/><rect x="990.6" y="1222.9" width="9.6" height="9.6" fill="#f7901e"/><rect x="1003.8" y="1211.6" width="9.6" height="9.6" fill="#f7901e"/><rect x="1017" y="1198.6" width="9.6" height="9.6" fill="#f7901e"/><rect x="1030.2" y="1187" width="9.6" height="9.6" fill="#f7901e"/><rect x="1043.4" y="1177.5" width="9.6" height="9.6" fill="#f7901e"/><rect x="1056.6" y="1164.2" width="9.6" height="9.6" fill="#f7901e"/><rect x="1069.2" y="1151.1" width="9.6" height="9.6" fill="#f7901e"/><rect x="1076.1" y="1138.9" width="9.6" height="9.6" fill="#f7901e"/><rect x="1079.9" y="1134.2" width="9.6" height="9.6" fill="#f7901e"/><rect x="1082.4" y="1129.9" width="9.6" height="9.6" fill="#f7901e"/><rect x="1084.9" y="1125" width="9.6" height="9.6" fill="#f7901e"/><rect x="1087.4" y="1121.7" width="9.6" height="9.6" fill="#f7901e"/><rect x="1089.9" y="1119.4" width="9.6" height="9.6" fill="#f7901e"/><rect x="1092.4" y="1116.1" width="9.6" height="9.6" fill="#f7901e"/><rect x="1094.9" y="1114.4" width="9.6" height="9.6" fill="#f7901e"/><rect x="1097.4" y="1112.1" width="9.6" height="9.6" fill="#f7901e"/><rect x="1099.9" y="1107.1" width="9.6" height="9.6" fill="#f7901e"/><rect x="1102.4" y="1105.6" width="9.6" height="9.6" fill="#f7901e"/><rect x="1104.9" y="1102.6" width="9.6" height="9.6" fill="#f7901e"/><rect x="1107.4" y="1099.3" width="9.6" height="9.6" fill="#f7901e"/><rect x="1109.9" y="1093.9" width="9.6" height="9.6" fill="#f7901e"/><rect x="1112.4" y="1088.5" width="9.6" height="9.6" fill="#f7901e"/><rect x="1114.9" y="1083.3" width="9.6" height="9.6" fill="#f7901e"/><rect x="1117.4" y="1078" width="9.6" height="9.6" fill="#f7901e"/><rect x="1119.9" y="1072.9" width="9.6" height="9.6" fill="#f7901e"/><rect x="1122.4" y="1069.2" width="9.6" height="9.6" fill="#f7901e"/><rect x="1124.9" y="1065" width="9.6" height="9.6" fill="#f7901e"/><rect x="1127.4" y="1059.6" width="9.6" height="9.6" fill="#f7901e"/><rect x="1129.9" y="1053.1" width="9.6" height="9.6" fill="#f7901e"/><rect x="1132.4" y="1048.5" width="9.6" height="9.6" fill="#f7901e"/><rect x="1134.9" y="1043.9" width="9.6" height="9.6" fill="#f7901e"/><rect x="1137.4" y="1036.1" width="9.6" height="9.6" fill="#f7901e"/><rect x="1139.9" y="1033" width="9.6" height="9.6" fill="#f7901e"/><rect x="1142.4" y="1028.7" width="9.6" height="9.6" fill="#f7901e"/><rect x="1144.9" y="1023.1" width="9.6" height="9.6" fill="#f7901e"/><rect x="1147.4" y="1017.8" width="9.6" height="9.6" fill="#f7901e"/><rect x="1149.9" y="1011.6" width="9.6" height="9.6" fill="#f7901e"/><rect x="1152.4" y="1005.4" width="9.6" height="9.6" fill="#f7901e"/><rect x="1154.9" y="1002.4" width="9.6" height="9.6" fill="#f7901e"/><rect x="1157.4" y="996.1" width="9.6" height="9.6" fill="#f7901e"/><rect x="1159.9" y="994" width="9.6" height="9.6" fill="#f7901e"/><rect x="1162.4" y="990.7" width="9.6" height="9.6" fill="#f7901e"/><rect x="1164.9" y="984.8" width="9.6" height="9.6" fill="#f7901e"/><rect x="1167.4" y="981" width="9.6" height="9.6" fill="#f7901e"/><rect x="1169.9" y="979.2" width="9.6" height="9.6" fill="#f7901e"/><rect x="1172.4" y="974.6" width="9.6" height="9.6" fill="#f7901e"/><rect x="1174.9" y="968.7" width="9.6" height="9.6" fill="#f7901e"/><rect x="1177.4" y="964.8" width="9.6" height="9.6" fill="#f7901e"/><rect x="1179.9" y="961" width="9.6" height="9.6" fill="#f7901e"/><rect x="1182.4" y="959.9" width="9.6" height="9.6" fill="#f7901e"/><rect x="805.8" y="1324.2" width="9.6" height="9.6" fill="#f36b21"/><rect x="819" y="1313.9" width="9.6" height="9.6" fill="#f36b21"/><rect x="832.2" y="1303.5" width="9.6" height="9.6" fill="#f36b21"/><rect x="845.4" y="1293.2" width="9.6" height="9.6" fill="#f36b21"/><rect x="858.6" y="1282.9" width="9.6" height="9.6" fill="#f36b21"/><rect x="871.8" y="1272.5" width="9.6" height="9.6" fill="#f36b21"/><rect x="885" y="1262.2" width="9.6" height="9.6" fill="#f36b21"/><rect x="898.2" y="1251.7" width="9.6" height="9.6" fill="#f36b21"/><rect x="911.4" y="1240.6" width="9.6" height="9.6" fill="#f36b21"/><rect x="924.6" y="1229.5" width="9.6" height="9.6" fill="#f36b21"/><rect x="937.8" y="1218.4" width="9.6" height="9.6" fill="#f36b21"/><rect x="951" y="1206.5" width="9.6" height="9.6" fill="#f36b21"/><rect x="964.2" y="1194.6" width="9.6" height="9.6" fill="#f36b21"/><rect x="977.4" y="1183.2" width="9.6" height="9.6" fill="#f36b21"/><rect x="990.6" y="1172.1" width="9.6" height="9.6" fill="#f36b21"/><rect x="1003.8" y="1161.5" width="9.6" height="9.6" fill="#f36b21"/><rect x="1017" y="1147.1" width="9.6" height="9.6" fill="#f36b21"/><rect x="1030.2" y="1133.2" width="9.6" height="9.6" fill="#f36b21"/><rect x="1038.9" y="1120.5" width="9.6" height="9.6" fill="#f36b21"/><rect x="1043.7" y="1119.2" width="9.6" height="9.6" fill="#f36b21"/><rect x="1046.3" y="1117.6" width="9.6" height="9.6" fill="#f36b21"/><rect x="1048.8" y="1114.5" width="9.6" height="9.6" fill="#f36b21"/><rect x="1051.3" y="1111.4" width="9.6" height="9.6" fill="#f36b21"/><rect x="1053.8" y="1110.1" width="9.6" height="9.6" fill="#f36b21"/><rect x="1056.3" y="1106.6" width="9.6" height="9.6" fill="#f36b21"/><rect x="1058.8" y="1104.1" width="9.6" height="9.6" fill="#f36b21"/><rect x="1061.3" y="1105.6" width="9.6" height="9.6" fill="#f36b21"/><rect x="1063.8" y="1102.4" width="9.6" height="9.6" fill="#f36b21"/><rect x="1066.3" y="1100" width="9.6" height="9.6" fill="#f36b21"/><rect x="1068.8" y="1099.5" width="9.6" height="9.6" fill="#f36b21"/><rect x="1071.3" y="1095.7" width="9.6" height="9.6" fill="#f36b21"/><rect x="1073.8" y="1095.2" width="9.6" height="9.6" fill="#f36b21"/><rect x="1076.3" y="1093.1" width="9.6" height="9.6" fill="#f36b21"/><rect x="1078.8" y="1088.9" width="9.6" height="9.6" fill="#f36b21"/><rect x="1081.3" y="1087" width="9.6" height="9.6" fill="#f36b21"/><rect x="1083.8" y="1085.1" width="9.6" height="9.6" fill="#f36b21"/><rect x="1086.3" y="1082" width="9.6" height="9.6" fill="#f36b21"/><rect x="1088.8" y="1080.3" width="9.6" height="9.6" fill="#f36b21"/><rect x="1091.3" y="1076.1" width="9.6" height="9.6" fill="#f36b21"/><rect x="1093.8" y="1073.8" width="9.6" height="9.6" fill="#f36b21"/><rect x="1096.3" y="1069.8" width="9.6" height="9.6" fill="#f36b21"/><rect x="1098.8" y="1069.6" width="9.6" height="9.6" fill="#f36b21"/><rect x="1101.3" y="1064.7" width="9.6" height="9.6" fill="#f36b21"/><rect x="1103.8" y="1062.1" width="9.6" height="9.6" fill="#f36b21"/><rect x="1106.3" y="1059.6" width="9.6" height="9.6" fill="#f36b21"/><rect x="1108.8" y="1057.8" width="9.6" height="9.6" fill="#f36b21"/><rect x="1111.3" y="1053.1" width="9.6" height="9.6" fill="#f36b21"/><rect x="1113.8" y="1051.9" width="9.6" height="9.6" fill="#f36b21"/><rect x="1116.3" y="1047.5" width="9.6" height="9.6" fill="#f36b21"/><rect x="1118.8" y="1044.7" width="9.6" height="9.6" fill="#f36b21"/><rect x="1121.3" y="1041.7" width="9.6" height="9.6" fill="#f36b21"/><rect x="1123.8" y="1036.9" width="9.6" height="9.6" fill="#f36b21"/><rect x="1126.3" y="1035.5" width="9.6" height="9.6" fill="#f36b21"/><rect x="1128.8" y="1031.6" width="9.6" height="9.6" fill="#f36b21"/><rect x="1131.3" y="1028" width="9.6" height="9.6" fill="#f36b21"/><rect x="1133.8" y="1027.9" width="9.6" height="9.6" fill="#f36b21"/><rect x="1136.3" y="1022.4" width="9.6" height="9.6" fill="#f36b21"/><rect x="1138.8" y="1019.9" width="9.6" height="9.6" fill="#f36b21"/><rect x="1141.3" y="1017.2" width="9.6" height="9.6" fill="#f36b21"/><rect x="1143.8" y="1013" width="9.6" height="9.6" fill="#f36b21"/><rect x="1146.3" y="1008.6" width="9.6" height="9.6" fill="#f36b21"/><rect x="1148.8" y="1005.7" width="9.6" height="9.6" fill="#f36b21"/><rect x="1151.3" y="1002.2" width="9.6" height="9.6" fill="#f36b21"/><rect x="1153.8" y="999.4" width="9.6" height="9.6" fill="#f36b21"/><rect x="1156.3" y="993.4" width="9.6" height="9.6" fill="#f36b21"/><rect x="1158.8" y="991.4" width="9.6" height="9.6" fill="#f36b21"/><rect x="1161.3" y="986.7" width="9.6" height="9.6" fill="#f36b21"/><rect x="1163.8" y="983.2" width="9.6" height="9.6" fill="#f36b21"/><rect x="1166.3" y="981.5" width="9.6" height="9.6" fill="#f36b21"/><rect x="1168.8" y="977.1" width="9.6" height="9.6" fill="#f36b21"/><rect x="1171.3" y="973.9" width="9.6" height="9.6" fill="#f36b21"/><rect x="1173.8" y="971.1" width="9.6" height="9.6" fill="#f36b21"/><rect x="1176.3" y="968.2" width="9.6" height="9.6" fill="#f36b21"/><rect x="1178.8" y="963.1" width="9.6" height="9.6" fill="#f36b21"/><rect x="1181.3" y="960.2" width="9.6" height="9.6" fill="#f36b21"/><rect x="805.8" y="1292.2" width="9.6" height="9.6" fill="#f15a29"/><rect x="819" y="1281.8" width="9.6" height="9.6" fill="#f15a29"/><rect x="832.2" y="1271.4" width="9.6" height="9.6" fill="#f15a29"/><rect x="845.4" y="1261" width="9.6" height="9.6" fill="#f15a29"/><rect x="858.6" y="1250.6" width="9.6" height="9.6" fill="#f15a29"/><rect x="871.8" y="1240.3" width="9.6" height="9.6" fill="#f15a29"/><rect x="885" y="1229.9" width="9.6" height="9.6" fill="#f15a29"/><rect x="898.2" y="1219.5" width="9.6" height="9.6" fill="#f15a29"/><rect x="911.4" y="1209.1" width="9.6" height="9.6" fill="#f15a29"/><rect x="924.6" y="1198.7" width="9.6" height="9.6" fill="#f15a29"/><rect x="937.8" y="1188.3" width="9.6" height="9.6" fill="#f15a29"/><rect x="951" y="1177.6" width="9.6" height="9.6" fill="#f15a29"/><rect x="964.2" y="1167.6" width="9.6" height="9.6" fill="#f15a29"/><rect x="977.4" y="1157.1" width="9.6" height="9.6" fill="#f15a29"/><rect x="990.6" y="1144.9" width="9.6" height="9.6" fill="#f15a29"/><rect x="1003.8" y="1132.9" width="9.6" height="9.6" fill="#f15a29"/><rect x="1017" y="1121.8" width="9.6" height="9.6" fill="#f15a29"/><rect x="1030.2" y="1111.8" width="9.6" height="9.6" fill="#f15a29"/><rect x="1038.9" y="1104.8" width="9.6" height="9.6" fill="#f15a29"/><rect x="1043.7" y="1101.5" width="9.6" height="9.6" fill="#f15a29"/><rect x="1046.3" y="1098.5" width="9.6" height="9.6" fill="#f15a29"/><rect x="1048.8" y="1096.7" width="9.6" height="9.6" fill="#f15a29"/><rect x="1051.3" y="1094.4" width="9.6" height="9.6" fill="#f15a29"/><rect x="1053.8" y="1094.1" width="9.6" height="9.6" fill="#f15a29"/><rect x="1056.3" y="1091.1" width="9.6" height="9.6" fill="#f15a29"/><rect x="1058.8" y="1089.7" width="9.6" height="9.6" fill="#f15a29"/><rect x="1061.3" y="1087.9" width="9.6" height="9.6" fill="#f15a29"/><rect x="1063.8" y="1082.8" width="9.6" height="9.6" fill="#f15a29"/><rect x="1066.3" y="1081.2" width="9.6" height="9.6" fill="#f15a29"/><rect x="1068.8" y="1079.9" width="9.6" height="9.6" fill="#f15a29"/><rect x="1071.3" y="1076.8" width="9.6" height="9.6" fill="#f15a29"/><rect x="1073.8" y="1071.6" width="9.6" height="9.6" fill="#f15a29"/><rect x="1076.3" y="1068.8" width="9.6" height="9.6" fill="#f15a29"/><rect x="1078.8" y="1067.3" width="9.6" height="9.6" fill="#f15a29"/><rect x="1081.3" y="1063.3" width="9.6" height="9.6" fill="#f15a29"/><rect x="1083.8" y="1061.2" width="9.6" height="9.6" fill="#f15a29"/><rect x="1086.3" y="1057.9" width="9.6" height="9.6" fill="#f15a29"/><rect x="1088.8" y="1057.3" width="9.6" height="9.6" fill="#f15a29"/><rect x="1091.3" y="1055" width="9.6" height="9.6" fill="#f15a29"/><rect x="1093.8" y="1052.7" width="9.6" height="9.6" fill="#f15a29"/><rect x="1096.3" y="1047.4" width="9.6" height="9.6" fill="#f15a29"/><rect x="1098.8" y="1046.7" width="9.6" height="9.6" fill="#f15a29"/><rect x="1101.3" y="1043.8" width="9.6" height="9.6" fill="#f15a29"/><rect x="1103.8" y="1039.2" width="9.6" height="9.6" fill="#f15a29"/><rect x="1106.3" y="1039.2" width="9.6" height="9.6" fill="#f15a29"/><rect x="1108.8" y="1036.8" width="9.6" height="9.6" fill="#f15a29"/><rect x="1111.3" y="1031.4" width="9.6" height="9.6" fill="#f15a29"/><rect x="1113.8" y="1031.3" width="9.6" height="9.6" fill="#f15a29"/><rect x="1116.3" y="1026.7" width="9.6" height="9.6" fill="#f15a29"/><rect x="1118.8" y="1024.5" width="9.6" height="9.6" fill="#f15a29"/><rect x="1121.3" y="1023.8" width="9.6" height="9.6" fill="#f15a29"/><rect x="1123.8" y="1020.7" width="9.6" height="9.6" fill="#f15a29"/><rect x="1126.3" y="1015.8" width="9.6" height="9.6" fill="#f15a29"/><rect x="1128.8" y="1014.2" width="9.6" height="9.6" fill="#f15a29"/><rect x="1131.3" y="1012" width="9.6" height="9.6" fill="#f15a29"/><rect x="1133.8" y="1008.8" width="9.6" height="9.6" fill="#f15a29"/><rect x="1136.3" y="1005.8" width="9.6" height="9.6" fill="#f15a29"/><rect x="1138.8" y="1003.7" width="9.6" height="9.6" fill="#f15a29"/><rect x="1141.3" y="1002.7" width="9.6" height="9.6" fill="#f15a29"/><rect x="1143.8" y="997.6" width="9.6" height="9.6" fill="#f15a29"/><rect x="1146.3" y="997" width="9.6" height="9.6" fill="#f15a29"/><rect x="1148.8" y="994.1" width="9.6" height="9.6" fill="#f15a29"/><rect x="1151.3" y="990" width="9.6" height="9.6" fill="#f15a29"/><rect x="1153.8" y="988.6" width="9.6" height="9.6" fill="#f15a29"/><rect x="1156.3" y="987.2" width="9.6" height="9.6" fill="#f15a29"/><rect x="1158.8" y="984.3" width="9.6" height="9.6" fill="#f15a29"/><rect x="1161.3" y="980.1" width="9.6" height="9.6" fill="#f15a29"/><rect x="1163.8" y="980.9" width="9.6" height="9.6" fill="#f15a29"/><rect x="1166.3" y="977.7" width="9.6" height="9.6" fill="#f15a29"/><rect x="1168.8" y="975.8" width="9.6" height="9.6" fill="#f15a29"/><rect x="1171.3" y="970.2" width="9.6" height="9.6" fill="#f15a29"/><rect x="1173.8" y="968.2" width="9.6" height="9.6" fill="#f15a29"/><rect x="1176.3" y="964.2" width="9.6" height="9.6" fill="#f15a29"/><rect x="1178.8" y="963.7" width="9.6" height="9.6" fill="#f15a29"/><rect x="1181.3" y="958.8" width="9.6" height="9.6" fill="#f15a29"/><rect x="1227.2" y="937.2" width="9.6" height="9.6" fill="#3a4ea5"/><rect x="1231.2" y="934.1" width="9.6" height="9.6" fill="#3a4ea5"/><rect x="1235.2" y="931" width="9.6" height="9.6" fill="#3a4ea5"/><rect x="1239.2" y="928" width="9.6" height="9.6" fill="#3a4ea5"/><rect x="1243.2" y="924.9" width="9.6" height="9.6" fill="#3a4ea5"/><rect x="1247.2" y="921.8" width="9.6" height="9.6" fill="#3a4ea5"/><rect x="1251.2" y="918.8" width="9.6" height="9.6" fill="#3a4ea5"/><rect x="1255.2" y="915.7" width="9.6" height="9.6" fill="#3a4ea5"/><rect x="1259.2" y="912.6" width="9.6" height="9.6" fill="#3a4ea5"/><rect x="1263.2" y="909.6" width="9.6" height="9.6" fill="#3a4ea5"/><rect x="1267.2" y="906.5" width="9.6" height="9.6" fill="#3a4ea5"/><rect x="1271.2" y="903.4" width="9.6" height="9.6" fill="#3a4ea5"/><rect x="1275.2" y="900.4" width="9.6" height="9.6" fill="#3a4ea5"/><rect x="1279.2" y="897.3" width="9.6" height="9.6" fill="#3a4ea5"/><rect x="1283.2" y="894.2" width="9.6" height="9.6" fill="#3a4ea5"/><rect x="1287.2" y="891.2" width="9.6" height="9.6" fill="#3a4ea5"/><rect x="1210.2" y="949.5" width="9.6" height="9.6" fill="#22b8e6"/><rect x="1214.2" y="946.4" width="9.6" height="9.6" fill="#22b8e6"/><rect x="1218.2" y="943.3" width="9.6" height="9.6" fill="#22b8e6"/><rect x="1222.2" y="940.3" width="9.6" height="9.6" fill="#22b8e6"/><rect x="1226.2" y="937.2" width="9.6" height="9.6" fill="#22b8e6"/><rect x="1230.2" y="934.1" width="9.6" height="9.6" fill="#22b8e6"/><rect x="1234.2" y="931" width="9.6" height="9.6" fill="#22b8e6"/><rect x="1238.2" y="927.9" width="9.6" height="9.6" fill="#22b8e6"/><rect x="1242.2" y="924.8" width="9.6" height="9.6" fill="#22b8e6"/><rect x="1246.2" y="921.8" width="9.6" height="9.6" fill="#22b8e6"/><rect x="1250.2" y="918.7" width="9.6" height="9.6" fill="#22b8e6"/><rect x="1254.2" y="915.6" width="9.6" height="9.6" fill="#22b8e6"/><rect x="1258.2" y="912.5" width="9.6" height="9.6" fill="#22b8e6"/><rect x="1262.2" y="909.4" width="9.6" height="9.6" fill="#22b8e6"/><rect x="1266.2" y="906.4" width="9.6" height="9.6" fill="#22b8e6"/><rect x="1270.2" y="903.3" width="9.6" height="9.6" fill="#22b8e6"/><rect x="1274.2" y="900.2" width="9.6" height="9.6" fill="#22b8e6"/><rect x="1278.2" y="897.1" width="9.6" height="9.6" fill="#22b8e6"/><rect x="1282.2" y="894" width="9.6" height="9.6" fill="#22b8e6"/><rect x="1286.2" y="890.9" width="9.6" height="9.6" fill="#22b8e6"/><rect x="1190.2" y="964.2" width="9.6" height="9.6" fill="#3cb54a"/><rect x="1194.2" y="961.1" width="9.6" height="9.6" fill="#3cb54a"/><rect x="1198.2" y="958" width="9.6" height="9.6" fill="#3cb54a"/><rect x="1202.2" y="954.9" width="9.6" height="9.6" fill="#3cb54a"/><rect x="1206.2" y="951.8" width="9.6" height="9.6" fill="#3cb54a"/><rect x="1210.2" y="948.7" width="9.6" height="9.6" fill="#3cb54a"/><rect x="1214.2" y="945.6" width="9.6" height="9.6" fill="#3cb54a"/><rect x="1218.2" y="942.5" width="9.6" height="9.6" fill="#3cb54a"/><rect x="1222.2" y="939.4" width="9.6" height="9.6" fill="#3cb54a"/><rect x="1226.2" y="936.3" width="9.6" height="9.6" fill="#3cb54a"/><rect x="1230.2" y="933.2" width="9.6" height="9.6" fill="#3cb54a"/><rect x="1234.2" y="930.2" width="9.6" height="9.6" fill="#3cb54a"/><rect x="1238.2" y="927.1" width="9.6" height="9.6" fill="#3cb54a"/><rect x="1242.2" y="924" width="9.6" height="9.6" fill="#3cb54a"/><rect x="1246.2" y="920.9" width="9.6" height="9.6" fill="#3cb54a"/><rect x="1250.2" y="917.8" width="9.6" height="9.6" fill="#3cb54a"/><rect x="1254.2" y="914.7" width="9.6" height="9.6" fill="#3cb54a"/><rect x="1258.2" y="911.6" width="9.6" height="9.6" fill="#3cb54a"/><rect x="1262.2" y="908.5" width="9.6" height="9.6" fill="#3cb54a"/><rect x="1266.2" y="905.4" width="9.6" height="9.6" fill="#3cb54a"/><rect x="1270.2" y="902.3" width="9.6" height="9.6" fill="#3cb54a"/><rect x="1274.2" y="899.2" width="9.6" height="9.6" fill="#3cb54a"/><rect x="1278.2" y="896.1" width="9.6" height="9.6" fill="#3cb54a"/><rect x="1282.2" y="893" width="9.6" height="9.6" fill="#3cb54a"/><rect x="1286.2" y="889.9" width="9.6" height="9.6" fill="#3cb54a"/><rect x="1183.2" y="968.2" width="9.6" height="9.6" fill="#fff200"/><rect x="1187.2" y="965.1" width="9.6" height="9.6" fill="#fff200"/><rect x="1191.2" y="962" width="9.6" height="9.6" fill="#fff200"/><rect x="1195.2" y="958.9" width="9.6" height="9.6" fill="#fff200"/><rect x="1199.2" y="955.8" width="9.6" height="9.6" fill="#fff200"/><rect x="1203.2" y="952.7" width="9.6" height="9.6" fill="#fff200"/><rect x="1207.2" y="949.6" width="9.6" height="9.6" fill="#fff200"/><rect x="1211.2" y="946.5" width="9.6" height="9.6" fill="#fff200"/><rect x="1215.2" y="943.4" width="9.6" height="9.6" fill="#fff200"/><rect x="1219.2" y="940.3" width="9.6" height="9.6" fill="#fff200"/><rect x="1223.2" y="937.2" width="9.6" height="9.6" fill="#fff200"/><rect x="1227.2" y="934.1" width="9.6" height="9.6" fill="#fff200"/><rect x="1231.2" y="931" width="9.6" height="9.6" fill="#fff200"/><rect x="1235.2" y="927.9" width="9.6" height="9.6" fill="#fff200"/><rect x="1239.2" y="924.8" width="9.6" height="9.6" fill="#fff200"/><rect x="1243.2" y="921.7" width="9.6" height="9.6" fill="#fff200"/><rect x="1247.2" y="918.6" width="9.6" height="9.6" fill="#fff200"/><rect x="1251.2" y="915.5" width="9.6" height="9.6" fill="#fff200"/><rect x="1255.2" y="912.4" width="9.6" height="9.6" fill="#fff200"/><rect x="1259.2" y="909.3" width="9.6" height="9.6" fill="#fff200"/><rect x="1263.2" y="906.2" width="9.6" height="9.6" fill="#fff200"/><rect x="1267.2" y="903.2" width="9.6" height="9.6" fill="#fff200"/><rect x="1271.2" y="900.1" width="9.6" height="9.6" fill="#fff200"/><rect x="1275.2" y="897" width="9.6" height="9.6" fill="#fff200"/><rect x="1279.2" y="893.9" width="9.6" height="9.6" fill="#fff200"/><rect x="1283.2" y="890.8" width="9.6" height="9.6" fill="#fff200"/><rect x="1287.2" y="887.7" width="9.6" height="9.6" fill="#fff200"/><rect x="1180.2" y="968.5" width="9.6" height="9.6" fill="#faa61a"/><rect x="1184.2" y="965.4" width="9.6" height="9.6" fill="#faa61a"/><rect x="1188.2" y="962.3" width="9.6" height="9.6" fill="#faa61a"/><rect x="1192.2" y="959.2" width="9.6" height="9.6" fill="#faa61a"/><rect x="1196.2" y="956.1" width="9.6" height="9.6" fill="#faa61a"/><rect x="1200.2" y="953" width="9.6" height="9.6" fill="#faa61a"/><rect x="1204.2" y="949.9" width="9.6" height="9.6" fill="#faa61a"/><rect x="1208.2" y="946.8" width="9.6" height="9.6" fill="#faa61a"/><rect x="1212.2" y="943.7" width="9.6" height="9.6" fill="#faa61a"/><rect x="1216.2" y="940.6" width="9.6" height="9.6" fill="#faa61a"/><rect x="1220.2" y="937.5" width="9.6" height="9.6" fill="#faa61a"/><rect x="1224.2" y="934.4" width="9.6" height="9.6" fill="#faa61a"/><rect x="1228.2" y="931.3" width="9.6" height="9.6" fill="#faa61a"/><rect x="1232.2" y="928.3" width="9.6" height="9.6" fill="#faa61a"/><rect x="1236.2" y="925.2" width="9.6" height="9.6" fill="#faa61a"/><rect x="1240.2" y="922.1" width="9.6" height="9.6" fill="#faa61a"/><rect x="1244.2" y="919" width="9.6" height="9.6" fill="#faa61a"/><rect x="1248.2" y="915.9" width="9.6" height="9.6" fill="#faa61a"/><rect x="1252.2" y="912.8" width="9.6" height="9.6" fill="#faa61a"/><rect x="1256.2" y="909.7" width="9.6" height="9.6" fill="#faa61a"/><rect x="1260.2" y="906.6" width="9.6" height="9.6" fill="#faa61a"/><rect x="1264.2" y="903.5" width="9.6" height="9.6" fill="#faa61a"/><rect x="1268.2" y="900.4" width="9.6" height="9.6" fill="#faa61a"/><rect x="1272.2" y="897.3" width="9.6" height="9.6" fill="#faa61a"/><rect x="1276.2" y="894.2" width="9.6" height="9.6" fill="#faa61a"/><rect x="1280.2" y="891.1" width="9.6" height="9.6" fill="#faa61a"/><rect x="1284.2" y="888" width="9.6" height="9.6" fill="#faa61a"/><rect x="1177.2" y="968.4" width="9.6" height="9.6" fill="#f36b21"/><rect x="1181.2" y="965.3" width="9.6" height="9.6" fill="#f36b21"/><rect x="1185.2" y="962.2" width="9.6" height="9.6" fill="#f36b21"/><rect x="1189.2" y="959.1" width="9.6" height="9.6" fill="#f36b21"/><rect x="1193.2" y="956" width="9.6" height="9.6" fill="#f36b21"/><rect x="1197.2" y="952.9" width="9.6" height="9.6" fill="#f36b21"/><rect x="1201.2" y="949.8" width="9.6" height="9.6" fill="#f36b21"/><rect x="1205.2" y="946.7" width="9.6" height="9.6" fill="#f36b21"/><rect x="1209.2" y="943.6" width="9.6" height="9.6" fill="#f36b21"/><rect x="1213.2" y="940.5" width="9.6" height="9.6" fill="#f36b21"/><rect x="1217.2" y="937.4" width="9.6" height="9.6" fill="#f36b21"/><rect x="1221.2" y="934.3" width="9.6" height="9.6" fill="#f36b21"/><rect x="1225.2" y="931.2" width="9.6" height="9.6" fill="#f36b21"/><rect x="1229.2" y="928.1" width="9.6" height="9.6" fill="#f36b21"/><rect x="1233.2" y="925" width="9.6" height="9.6" fill="#f36b21"/><rect x="1237.2" y="921.9" width="9.6" height="9.6" fill="#f36b21"/><rect x="1241.2" y="918.8" width="9.6" height="9.6" fill="#f36b21"/><rect x="1245.2" y="915.7" width="9.6" height="9.6" fill="#f36b21"/><rect x="1249.2" y="912.6" width="9.6" height="9.6" fill="#f36b21"/><rect x="1253.2" y="909.5" width="9.6" height="9.6" fill="#f36b21"/><rect x="1257.2" y="906.4" width="9.6" height="9.6" fill="#f36b21"/><rect x="1261.2" y="903.3" width="9.6" height="9.6" fill="#f36b21"/><rect x="1265.2" y="900.2" width="9.6" height="9.6" fill="#f36b21"/><rect x="1269.2" y="897.1" width="9.6" height="9.6" fill="#f36b21"/><rect x="1273.2" y="894" width="9.6" height="9.6" fill="#f36b21"/><rect x="1277.2" y="890.9" width="9.6" height="9.6" fill="#f36b21"/><rect x="1281.2" y="887.8" width="9.6" height="9.6" fill="#f36b21"/><rect x="1285.2" y="884.7" width="9.6" height="9.6" fill="#f36b21"/><rect x="805.8" y="1258.3" width="9.6" height="9.6" fill="#f04a2b"/><rect x="819" y="1248" width="9.6" height="9.6" fill="#f04a2b"/><rect x="832.2" y="1237.7" width="9.6" height="9.6" fill="#f04a2b"/><rect x="845.4" y="1227.3" width="9.6" height="9.6" fill="#f04a2b"/><rect x="858.6" y="1217" width="9.6" height="9.6" fill="#f04a2b"/><rect x="871.8" y="1206.6" width="9.6" height="9.6" fill="#f04a2b"/><rect x="885" y="1196.3" width="9.6" height="9.6" fill="#f04a2b"/><rect x="898.2" y="1186" width="9.6" height="9.6" fill="#f04a2b"/><rect x="911.4" y="1175.6" width="9.6" height="9.6" fill="#f04a2b"/><rect x="924.6" y="1165.3" width="9.6" height="9.6" fill="#f04a2b"/><rect x="937.8" y="1154.9" width="9.6" height="9.6" fill="#f04a2b"/><rect x="951" y="1144.6" width="9.6" height="9.6" fill="#f04a2b"/><rect x="964.2" y="1134.2" width="9.6" height="9.6" fill="#f04a2b"/><rect x="977.4" y="1123.9" width="9.6" height="9.6" fill="#f04a2b"/><rect x="990.6" y="1113.6" width="9.6" height="9.6" fill="#f04a2b"/><rect x="1003.8" y="1103.2" width="9.6" height="9.6" fill="#f04a2b"/><rect x="1017" y="1092.9" width="9.6" height="9.6" fill="#f04a2b"/><rect x="1030.2" y="1082.5" width="9.6" height="9.6" fill="#f04a2b"/><rect x="1043.4" y="1072.2" width="9.6" height="9.6" fill="#f04a2b"/><rect x="1056.6" y="1061.8" width="9.6" height="9.6" fill="#f04a2b"/><rect x="1069.8" y="1051.5" width="9.6" height="9.6" fill="#f04a2b"/><rect x="1083" y="1041.2" width="9.6" height="9.6" fill="#f04a2b"/><rect x="1096.2" y="1030.8" width="9.6" height="9.6" fill="#f04a2b"/><rect x="1109.4" y="1020.5" width="9.6" height="9.6" fill="#f04a2b"/><rect x="1122.6" y="1010.1" width="9.6" height="9.6" fill="#f04a2b"/><rect x="1135.8" y="999.8" width="9.6" height="9.6" fill="#f04a2b"/><rect x="1149" y="989.5" width="9.6" height="9.6" fill="#f04a2b"/><rect x="1162.2" y="979.1" width="9.6" height="9.6" fill="#f04a2b"/><rect x="1175.4" y="968.8" width="9.6" height="9.6" fill="#f04a2b"/><rect x="1186.3" y="958.9" width="9.6" height="9.6" fill="#f04a2b"/><rect x="1192.2" y="955.3" width="9.6" height="9.6" fill="#f04a2b"/><rect x="1195.5" y="954.5" width="9.6" height="9.6" fill="#f04a2b"/><rect x="1198" y="952.2" width="9.6" height="9.6" fill="#f04a2b"/><rect x="1200.5" y="948.2" width="9.6" height="9.6" fill="#f04a2b"/><rect x="1203" y="945.9" width="9.6" height="9.6" fill="#f04a2b"/><rect x="1205.5" y="946.7" width="9.6" height="9.6" fill="#f04a2b"/><rect x="1208" y="943.5" width="9.6" height="9.6" fill="#f04a2b"/><rect x="1210.5" y="942" width="9.6" height="9.6" fill="#f04a2b"/><rect x="1213" y="937.8" width="9.6" height="9.6" fill="#f04a2b"/><rect x="1215.5" y="935.7" width="9.6" height="9.6" fill="#f04a2b"/><rect x="1218" y="936.1" width="9.6" height="9.6" fill="#f04a2b"/><rect x="1220.5" y="933.1" width="9.6" height="9.6" fill="#f04a2b"/><rect x="1223" y="929.9" width="9.6" height="9.6" fill="#f04a2b"/><rect x="1225.5" y="931.1" width="9.6" height="9.6" fill="#f04a2b"/><rect x="1228" y="928" width="9.6" height="9.6" fill="#f04a2b"/><rect x="1230.5" y="926.7" width="9.6" height="9.6" fill="#f04a2b"/><rect x="1233" y="922.1" width="9.6" height="9.6" fill="#f04a2b"/><rect x="1235.5" y="922.9" width="9.6" height="9.6" fill="#f04a2b"/><rect x="1238" y="918.1" width="9.6" height="9.6" fill="#f04a2b"/><rect x="1240.5" y="919.1" width="9.6" height="9.6" fill="#f04a2b"/><rect x="1243" y="915.6" width="9.6" height="9.6" fill="#f04a2b"/><rect x="1245.5" y="913.3" width="9.6" height="9.6" fill="#f04a2b"/><rect x="1248" y="912.1" width="9.6" height="9.6" fill="#f04a2b"/><rect x="1250.5" y="911.4" width="9.6" height="9.6" fill="#f04a2b"/><rect x="1253" y="907.1" width="9.6" height="9.6" fill="#f04a2b"/><rect x="1255.5" y="904.7" width="9.6" height="9.6" fill="#f04a2b"/><rect x="1258" y="904.1" width="9.6" height="9.6" fill="#f04a2b"/><rect x="1260.5" y="901.1" width="9.6" height="9.6" fill="#f04a2b"/><rect x="1263" y="898.7" width="9.6" height="9.6" fill="#f04a2b"/><rect x="1265.5" y="896.9" width="9.6" height="9.6" fill="#f04a2b"/><rect x="1268" y="894.6" width="9.6" height="9.6" fill="#f04a2b"/><rect x="1270.5" y="893.2" width="9.6" height="9.6" fill="#f04a2b"/><rect x="1273" y="891.6" width="9.6" height="9.6" fill="#f04a2b"/><rect x="1275.5" y="889.6" width="9.6" height="9.6" fill="#f04a2b"/><rect x="1278" y="889.3" width="9.6" height="9.6" fill="#f04a2b"/><rect x="1280.5" y="885.7" width="9.6" height="9.6" fill="#f04a2b"/><rect x="1283" y="884.4" width="9.6" height="9.6" fill="#f04a2b"/><rect x="1285.5" y="881.3" width="9.6" height="9.6" fill="#f04a2b"/><rect x="805.8" y="1252.3" width="9.6" height="9.6" fill="#ec1c24"/><rect x="819" y="1242" width="9.6" height="9.6" fill="#ec1c24"/><rect x="832.2" y="1231.7" width="9.6" height="9.6" fill="#ec1c24"/><rect x="845.4" y="1221.3" width="9.6" height="9.6" fill="#ec1c24"/><rect x="858.6" y="1211" width="9.6" height="9.6" fill="#ec1c24"/><rect x="871.8" y="1200.6" width="9.6" height="9.6" fill="#ec1c24"/><rect x="885" y="1190.3" width="9.6" height="9.6" fill="#ec1c24"/><rect x="898.2" y="1180" width="9.6" height="9.6" fill="#ec1c24"/><rect x="911.4" y="1169.6" width="9.6" height="9.6" fill="#ec1c24"/><rect x="924.6" y="1159.3" width="9.6" height="9.6" fill="#ec1c24"/><rect x="937.8" y="1148.9" width="9.6" height="9.6" fill="#ec1c24"/><rect x="951" y="1138.6" width="9.6" height="9.6" fill="#ec1c24"/><rect x="964.2" y="1128.2" width="9.6" height="9.6" fill="#ec1c24"/><rect x="977.4" y="1117.9" width="9.6" height="9.6" fill="#ec1c24"/><rect x="990.6" y="1107.6" width="9.6" height="9.6" fill="#ec1c24"/><rect x="1003.8" y="1097.2" width="9.6" height="9.6" fill="#ec1c24"/><rect x="1017" y="1086.9" width="9.6" height="9.6" fill="#ec1c24"/><rect x="1030.2" y="1076.5" width="9.6" height="9.6" fill="#ec1c24"/><rect x="1043.4" y="1066.2" width="9.6" height="9.6" fill="#ec1c24"/><rect x="1056.6" y="1055.8" width="9.6" height="9.6" fill="#ec1c24"/><rect x="1069.8" y="1045.5" width="9.6" height="9.6" fill="#ec1c24"/><rect x="1083" y="1035.2" width="9.6" height="9.6" fill="#ec1c24"/><rect x="1096.2" y="1024.8" width="9.6" height="9.6" fill="#ec1c24"/><rect x="1109.4" y="1014.5" width="9.6" height="9.6" fill="#ec1c24"/><rect x="1122.6" y="1004.1" width="9.6" height="9.6" fill="#ec1c24"/><rect x="1135.8" y="993.8" width="9.6" height="9.6" fill="#ec1c24"/><rect x="1149" y="983.5" width="9.6" height="9.6" fill="#ec1c24"/><rect x="1162.2" y="973.1" width="9.6" height="9.6" fill="#ec1c24"/><rect x="1175.4" y="962.8" width="9.6" height="9.6" fill="#ec1c24"/><rect x="1186.3" y="953.7" width="9.6" height="9.6" fill="#ec1c24"/><rect x="1192.2" y="947.8" width="9.6" height="9.6" fill="#ec1c24"/><rect x="1195.5" y="946.1" width="9.6" height="9.6" fill="#ec1c24"/><rect x="1198" y="943.3" width="9.6" height="9.6" fill="#ec1c24"/><rect x="1200.5" y="943.9" width="9.6" height="9.6" fill="#ec1c24"/><rect x="1203" y="941.3" width="9.6" height="9.6" fill="#ec1c24"/><rect x="1205.5" y="938.1" width="9.6" height="9.6" fill="#ec1c24"/><rect x="1208" y="937.1" width="9.6" height="9.6" fill="#ec1c24"/><rect x="1210.5" y="936.8" width="9.6" height="9.6" fill="#ec1c24"/><rect x="1213" y="931.9" width="9.6" height="9.6" fill="#ec1c24"/><rect x="1215.5" y="932.5" width="9.6" height="9.6" fill="#ec1c24"/><rect x="1218" y="929.1" width="9.6" height="9.6" fill="#ec1c24"/><rect x="1220.5" y="927.4" width="9.6" height="9.6" fill="#ec1c24"/><rect x="1223" y="926.7" width="9.6" height="9.6" fill="#ec1c24"/><rect x="1225.5" y="923.1" width="9.6" height="9.6" fill="#ec1c24"/><rect x="1228" y="921.6" width="9.6" height="9.6" fill="#ec1c24"/><rect x="1230.5" y="920.3" width="9.6" height="9.6" fill="#ec1c24"/><rect x="1233" y="919.4" width="9.6" height="9.6" fill="#ec1c24"/><rect x="1235.5" y="915.1" width="9.6" height="9.6" fill="#ec1c24"/><rect x="1238" y="914.9" width="9.6" height="9.6" fill="#ec1c24"/><rect x="1240.5" y="912.5" width="9.6" height="9.6" fill="#ec1c24"/><rect x="1243" y="910.3" width="9.6" height="9.6" fill="#ec1c24"/><rect x="1245.5" y="907.5" width="9.6" height="9.6" fill="#ec1c24"/><rect x="1248" y="905.3" width="9.6" height="9.6" fill="#ec1c24"/><rect x="1250.5" y="902.3" width="9.6" height="9.6" fill="#ec1c24"/><rect x="1253" y="900.6" width="9.6" height="9.6" fill="#ec1c24"/><rect x="1255.5" y="898.4" width="9.6" height="9.6" fill="#ec1c24"/><rect x="1258" y="898.9" width="9.6" height="9.6" fill="#ec1c24"/><rect x="1260.5" y="895.2" width="9.6" height="9.6" fill="#ec1c24"/><rect x="1263" y="892.9" width="9.6" height="9.6" fill="#ec1c24"/><rect x="1265.5" y="890.7" width="9.6" height="9.6" fill="#ec1c24"/><rect x="1268" y="891.4" width="9.6" height="9.6" fill="#ec1c24"/><rect x="1270.5" y="889.6" width="9.6" height="9.6" fill="#ec1c24"/><rect x="1273" y="886.9" width="9.6" height="9.6" fill="#ec1c24"/><rect x="1275.5" y="883.5" width="9.6" height="9.6" fill="#ec1c24"/><rect x="1278" y="881.4" width="9.6" height="9.6" fill="#ec1c24"/><rect x="1280.5" y="879.7" width="9.6" height="9.6" fill="#ec1c24"/><rect x="1283" y="878.3" width="9.6" height="9.6" fill="#ec1c24"/><rect x="1285.5" y="875.3" width="9.6" height="9.6" fill="#ec1c24"/><g stroke="#1a1a1a" stroke-width="1.4" fill="none"><line x1="807.6" y1="1255" x2="1296" y2="872.6"/><line x1="904.5" y1="1629.6" x2="1224.6" y2="873"/><line x1="1067.7" y1="1088.5" x2="1178.5" y2="974.8"/><line x1="1089" y1="1090.3" x2="1169.2" y2="988"/><line x1="1120.8" y1="1098.8" x2="1161.2" y2="1003"/><line x1="1143.8" y1="1093" x2="1164.6" y2="1038.8"/><line x1="1162.3" y1="1098.8" x2="1178.5" y2="1017"/><line x1="1046" y1="1080" x2="1185" y2="963"/><line x1="1040" y1="1075" x2="1170" y2="972"/></g></g>
<g stroke="#222" stroke-width="2"><path d="M807.6,1629.6v-12.5M807.6,873.1v12.5M875.2,1629.6v-6M875.2,873.1v6M914.7,1629.6v-6M914.7,873.1v6M942.8,1629.6v-6M942.8,873.1v6M964.5,1629.6v-6M964.5,873.1v6M982.3,1629.6v-6M982.3,873.1v6M997.3,1629.6v-6M997.3,873.1v6M1010.3,1629.6v-6M1010.3,873.1v6M1021.8,1629.6v-6M1021.8,873.1v6M1032.1,1629.6v-12.5M1032.1,873.1v12.5M1099.7,1629.6v-6M1099.7,873.1v6M1139.2,1629.6v-6M1139.2,873.1v6M1167.3,1629.6v-6M1167.3,873.1v6M1189,1629.6v-6M1189,873.1v6M1206.8,1629.6v-6M1206.8,873.1v6M1221.8,1629.6v-6M1221.8,873.1v6M1234.8,1629.6v-6M1234.8,873.1v6M1246.3,1629.6v-6M1246.3,873.1v6M1256.6,1629.6v-12.5M1256.6,873.1v12.5M807.6,1629.6h12.5M1295.7,1629.6h-12.5M807.6,1576.6h6M1295.7,1576.6h-6M807.6,1545.7h6M1295.7,1545.7h-6M807.6,1523.7h6M1295.7,1523.7h-6M807.6,1506.7h6M1295.7,1506.7h-6M807.6,1492.7h6M1295.7,1492.7h-6M807.6,1480.9h6M1295.7,1480.9h-6M807.6,1470.7h6M1295.7,1470.7h-6M807.6,1461.7h6M1295.7,1461.7h-6M807.6,1453.7h12.5M1295.7,1453.7h-12.5M807.6,1400.7h6M1295.7,1400.7h-6M807.6,1369.8h6M1295.7,1369.8h-6M807.6,1347.8h6M1295.7,1347.8h-6M807.6,1330.8h6M1295.7,1330.8h-6M807.6,1316.8h6M1295.7,1316.8h-6M807.6,1305h6M1295.7,1305h-6M807.6,1294.8h6M1295.7,1294.8h-6M807.6,1285.8h6M1295.7,1285.8h-6M807.6,1277.8h12.5M1295.7,1277.8h-12.5M807.6,1224.8h6M1295.7,1224.8h-6M807.6,1193.9h6M1295.7,1193.9h-6M807.6,1171.9h6M1295.7,1171.9h-6M807.6,1154.9h6M1295.7,1154.9h-6M807.6,1140.9h6M1295.7,1140.9h-6M807.6,1129.1h6M1295.7,1129.1h-6M807.6,1118.9h6M1295.7,1118.9h-6M807.6,1109.9h6M1295.7,1109.9h-6M807.6,1101.9h12.5M1295.7,1101.9h-12.5M807.6,1048.9h6M1295.7,1048.9h-6M807.6,1018h6M1295.7,1018h-6M807.6,996h6M1295.7,996h-6M807.6,979h6M1295.7,979h-6M807.6,965h6M1295.7,965h-6M807.6,953.2h6M1295.7,953.2h-6M807.6,943h6M1295.7,943h-6M807.6,934h6M1295.7,934h-6M807.6,926h12.5M1295.7,926h-12.5" fill="none"/></g>
<rect x="807.6" y="873.1" width="488.1" height="756.5" fill="none" stroke="#222" stroke-width="2"/>
<text x="807.6" y="1682.5" font-size="38" text-anchor="middle" font-family="'Liberation Sans', sans-serif">10<tspan font-size="22" dy="-21">-8</tspan></text>
<text x="1032.1" y="1682.5" font-size="38" text-anchor="middle" font-family="'Liberation Sans', sans-serif">10<tspan font-size="22" dy="-21">-7</tspan></text>
<text x="1256.6" y="1682.5" font-size="38" text-anchor="middle" font-family="'Liberation Sans', sans-serif">10<tspan font-size="22" dy="-21">-6</tspan></text>
<text x="793" y="1643.1" font-size="38" text-anchor="end" font-family="'Liberation Sans', sans-serif">10<tspan font-size="22" dy="-21">-7</tspan></text>
<text x="793" y="1467.2" font-size="38" text-anchor="end" font-family="'Liberation Sans', sans-serif">10<tspan font-size="22" dy="-21">-6</tspan></text>
<text x="793" y="1291.3" font-size="38" text-anchor="end" font-family="'Liberation Sans', sans-serif">10<tspan font-size="22" dy="-21">-5</tspan></text>
<text x="793" y="1115.4" font-size="38" text-anchor="end" font-family="'Liberation Sans', sans-serif">10<tspan font-size="22" dy="-21">-4</tspan></text>
<text x="793" y="939.5" font-size="38" text-anchor="end" font-family="'Liberation Sans', sans-serif">10<tspan font-size="22" dy="-21">-3</tspan></text>
<text x="1016" y="1722.2" font-size="38" font-family="'Liberation Sans', sans-serif"><tspan font-style="italic">I</tspan> (A)</text>
<text transform="translate(713.5,1309) rotate(-90)" font-size="38" font-family="'Liberation Sans', sans-serif"><tspan font-style="italic">V</tspan> (V)</text>
<text x="652.5" y="891.5" font-size="50" font-family="'Liberation Sans', sans-serif">(e)</text>
<text x="861" y="1118" font-size="33" font-family="'Liberation Sans', sans-serif">200</text>
<text x="922.5" y="1070.3" font-size="33" font-family="'Liberation Sans', sans-serif">195</text>
<text x="979.5" y="1023.3" font-size="33" font-family="'Liberation Sans', sans-serif">190</text>
<text x="1223" y="1091" font-size="33" font-family="'Liberation Sans', sans-serif">187</text>
<text x="1223" y="1128.5" font-size="33" font-family="'Liberation Sans', sans-serif">185</text>
<text x="1217" y="1208.3" font-size="33" font-family="'Liberation Sans', sans-serif">180</text>
<line x1="923" y1="1117" x2="974.7" y2="1141.8" stroke="#1a1a1a" stroke-width="1.4"/><polygon points="990,1149.2 972.5,1146.3 976.8,1137.3" fill="#1a1a1a"/><line x1="982.3" y1="1070" x2="1030.7" y2="1116" stroke="#1a1a1a" stroke-width="1.4"/><polygon points="1043,1127.7 1027.2,1119.6 1034.1,1112.4" fill="#1a1a1a"/><line x1="1040.8" y1="1022.3" x2="1083.9" y2="1115.6" stroke="#1a1a1a" stroke-width="1.4"/><polygon points="1091,1131 1079.3,1117.7 1088.4,1113.5" fill="#1a1a1a"/><line x1="1218.8" y1="1079.8" x2="1160.8" y2="1090" stroke="#1a1a1a" stroke-width="1.4"/><polygon points="1144.1,1093 1160,1085.1 1161.7,1095" fill="#1a1a1a"/><line x1="1215.4" y1="1122.7" x2="1177.5" y2="1116.5" stroke="#1a1a1a" stroke-width="1.4"/><polygon points="1160.7,1113.7 1178.3,1111.5 1176.7,1121.4" fill="#1a1a1a"/><line x1="1221" y1="1220" x2="1196" y2="1254.3" stroke="#1a1a1a" stroke-width="1.4"/><polygon points="1186,1268 1192,1251.3 1200.1,1257.2" fill="#1a1a1a"/>
</svg></body></html>
